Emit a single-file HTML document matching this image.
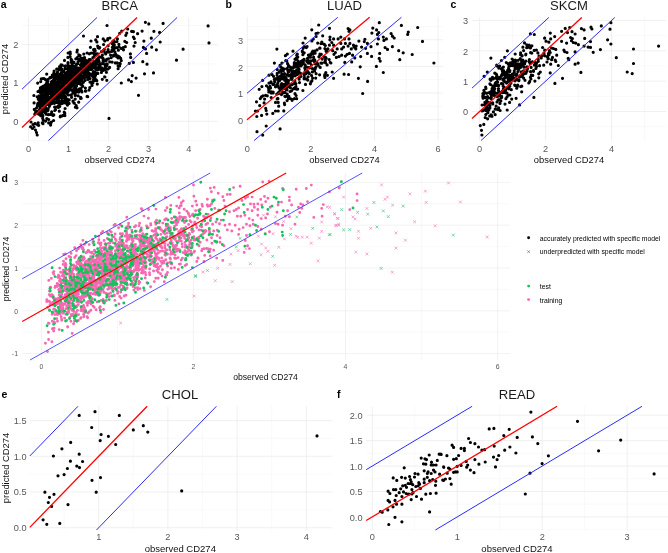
<!DOCTYPE html>
<html><head><meta charset="utf-8"><title>CD274 predictions</title>
<style>
html,body{margin:0;padding:0;background:#fff;}
body{width:668px;height:553px;overflow:hidden;font-family:"Liberation Sans",sans-serif;}
svg{display:block;font-family:"Liberation Sans",sans-serif;will-change:transform;opacity:0.999;}
</style></head><body>
<svg width="668" height="553" viewBox="0 0 668 553">
<rect width="668" height="553" fill="#fff"/>
<line x1="48.52" y1="17.5" x2="48.52" y2="140.5" stroke="#f1f1f1" stroke-width="0.45"/>
<line x1="88.57" y1="17.5" x2="88.57" y2="140.5" stroke="#f1f1f1" stroke-width="0.45"/>
<line x1="128.62" y1="17.5" x2="128.62" y2="140.5" stroke="#f1f1f1" stroke-width="0.45"/>
<line x1="168.67" y1="17.5" x2="168.67" y2="140.5" stroke="#f1f1f1" stroke-width="0.45"/>
<line x1="208.72" y1="17.5" x2="208.72" y2="140.5" stroke="#f1f1f1" stroke-width="0.45"/>
<line x1="22" y1="140.45" x2="218" y2="140.45" stroke="#f1f1f1" stroke-width="0.45"/>
<line x1="22" y1="102.15" x2="218" y2="102.15" stroke="#f1f1f1" stroke-width="0.45"/>
<line x1="22" y1="63.85" x2="218" y2="63.85" stroke="#f1f1f1" stroke-width="0.45"/>
<line x1="22" y1="25.55" x2="218" y2="25.55" stroke="#f1f1f1" stroke-width="0.45"/>
<line x1="28.50" y1="17.5" x2="28.50" y2="140.5" stroke="#e9e9e9" stroke-width="0.7"/>
<line x1="68.55" y1="17.5" x2="68.55" y2="140.5" stroke="#e9e9e9" stroke-width="0.7"/>
<line x1="108.60" y1="17.5" x2="108.60" y2="140.5" stroke="#e9e9e9" stroke-width="0.7"/>
<line x1="148.65" y1="17.5" x2="148.65" y2="140.5" stroke="#e9e9e9" stroke-width="0.7"/>
<line x1="188.70" y1="17.5" x2="188.70" y2="140.5" stroke="#e9e9e9" stroke-width="0.7"/>
<line x1="22" y1="121.30" x2="218" y2="121.30" stroke="#e9e9e9" stroke-width="0.7"/>
<line x1="22" y1="83.00" x2="218" y2="83.00" stroke="#e9e9e9" stroke-width="0.7"/>
<line x1="22" y1="44.70" x2="218" y2="44.70" stroke="#e9e9e9" stroke-width="0.7"/>
<path d="M66.9 93.3h0M99.7 47.6h0M60.1 93.8h0M79.9 76.1h0M84.8 66.6h0M112 50.1h0M82.9 61.4h0M58.6 102.3h0M87.1 66.8h0M63 76.2h0M50.6 77.7h0M75.3 79.1h0M39.2 98.8h0M57 97.9h0M43 95.1h0M89.3 63.4h0M52.5 99.1h0M84 75.5h0M79.2 70.3h0M61.9 116h0M95.6 54.4h0M53.8 95.2h0M40.7 81.6h0M78.8 59.5h0M105.3 65.2h0M81.5 79.1h0M91 41h0M81.1 66.5h0M40.4 92.6h0M61 64.9h0M57.5 95.3h0M74 69.5h0M80.7 97.4h0M77.8 83.6h0M95.2 50.8h0M100.9 69.5h0M42.2 89.8h0M77.1 77.4h0M48.7 122.9h0M45.5 103.3h0M102.4 55h0M60 104h0M71.7 85.2h0M55.2 95.6h0M52.5 93.3h0M65.8 76h0M52.6 87.6h0M73.2 66h0M61.6 97.3h0M56.7 73.6h0M62.2 69.4h0M103.5 70.3h0M57.1 95.3h0M103.2 58.5h0M51.3 91.6h0M80.6 98.5h0M60.6 77.3h0M70.4 82.8h0M66.6 93.3h0M57.9 79.2h0M37.6 124.8h0M86.2 64.3h0M80.2 68.1h0M103.1 61.6h0M93 53h0M53.2 83.9h0M56.7 94.9h0M55.7 107h0M71.8 84.9h0M39.1 95.9h0M71.2 82.1h0M80.1 55.6h0M52.8 99.8h0M85.1 68.3h0M75.1 86.1h0M79.6 75.2h0M70.7 86.8h0M42.9 106.3h0M96.8 80.7h0M68.9 86.4h0M81.2 77.4h0M73.2 79.6h0M68.2 91.6h0M62.7 82.4h0M75.2 95.4h0M80.2 72.6h0M89 73h0M52.6 76.9h0M55.4 97.3h0M55.2 94.4h0M51 96.2h0M67.1 100.3h0M66.3 77.4h0M120.7 58.3h0M77.5 83.5h0M43.4 106.1h0M92.3 75.8h0M72.1 78h0M67.9 78.9h0M73.9 103h0M81.6 58.3h0M86.1 73.6h0M47.6 88.9h0M116.9 41.6h0M56.2 93.9h0M57.3 100.6h0M68.1 75.8h0M70.4 79.9h0M53.2 83.4h0M42.7 118.3h0M87.1 96.4h0M65.6 96.6h0M60.8 92.3h0M69.5 70.7h0M57.7 82.7h0M80 79.4h0M43.2 120h0M61.8 100.8h0M92 85.4h0M57.9 87.8h0M90.6 63.6h0M93.9 67.6h0M84.6 57.6h0M86.5 68.2h0M38.1 103h0M80.9 75.3h0M74.7 68.3h0M111.1 57.7h0M78.1 61.6h0M46.3 94.6h0M74.2 81h0M80.8 75.5h0M39.3 96.4h0M72.1 83.1h0M69.8 77.4h0M77.3 50.1h0M98.1 47.7h0M72.9 66.7h0M48 110.3h0M110.6 55h0M60.4 79.8h0M56.8 94.2h0M53.7 83.5h0M42.1 96.5h0M56.2 83.9h0M61.5 86.9h0M69.5 77.7h0M75.4 71.4h0M45.3 112.7h0M59.9 96.8h0M40 111.9h0M77 58.5h0M70 76.6h0M52.2 91.1h0M65.4 88.9h0M87.7 96.7h0M52.3 84.1h0M34.3 109.4h0M50.5 77.8h0M62.5 83.6h0M90.3 82.2h0M70.3 82.5h0M74 89.2h0M79 74h0M101.5 51.6h0M64.5 60.4h0M55.4 102.4h0M79.8 71.1h0M93.9 57.1h0M74.8 86.4h0M61.4 90.2h0M113.6 56h0M106.8 80.3h0M37.2 96.8h0M66.7 83.1h0M63.5 98.1h0M42.9 86.3h0M57.4 86.6h0M77 52h0M73.4 69.8h0M85.2 68.2h0M55.7 95.6h0M118.9 44.3h0M92.2 68.6h0M55.4 92h0M68.8 90.4h0M81.1 81.1h0M54.9 86.2h0M113.3 43.9h0M76.5 86h0M76.3 82.9h0M74.6 74h0M74.3 103.2h0M74.8 67.5h0M79.2 74.5h0M51.5 90.5h0M61.5 74.4h0M65.2 87.9h0M101.3 63.8h0M60.5 91h0M68.6 78.1h0M65.3 68.7h0M69.8 87h0M45.5 103.6h0M64.5 87.4h0M84.9 67.1h0M53.4 88.1h0M62.4 91.3h0M102.3 79.3h0M52.4 99.1h0M42.7 115.4h0M90.4 59.7h0M57.6 88.6h0M93.9 73.8h0M57.2 96h0M76.8 91.8h0M59.9 85.3h0M116.7 56.7h0M62.2 74.5h0M39.4 90.9h0M48 104.4h0M84.1 70.9h0M62.1 96.2h0M83.8 63h0M52.7 83.9h0M84.1 71.3h0M90.4 47.3h0M71.3 80.1h0M86 75.6h0M45.7 109.2h0M57.9 78.8h0M63.9 81.5h0M73.5 76h0M94 56.5h0M74.4 69h0M59.7 106.5h0M71 67.6h0M45.6 103h0M84.4 68.6h0M71.6 86.2h0M48.6 103.8h0M74.3 103h0M52.5 92.3h0M85.9 72.1h0M93.6 66.9h0M63.8 83.5h0M65.4 83.3h0M45.6 121.1h0M51.9 101.4h0M41 102.6h0M80.7 75.3h0M94.7 49.4h0M42.3 108.8h0M57.1 69.1h0M96.3 61.1h0M65.6 77.9h0M49.5 99.6h0M50.5 99.6h0M74 62.4h0M94.9 65.2h0M55.4 90.9h0M44.5 85.8h0M92.9 57.6h0M94.9 78.2h0M61.8 87.3h0M58.7 87.6h0M103.2 38.9h0M54.6 107h0M80.7 71.3h0M69.6 76.1h0M41.9 90.5h0M69.8 68h0M44.6 100.6h0M49.9 84.8h0M48.5 101.6h0M101.4 72.4h0M47.2 102.4h0M49.1 86.1h0M46.8 118.6h0M80.1 84h0M85.9 68.9h0M51.8 88.7h0M40.1 109.1h0M41.4 88.9h0M75.4 67.8h0M54.9 91.8h0M68.6 65.8h0M81.1 68.8h0M45.8 98.3h0M74.1 79.3h0M113.8 40.5h0M49.5 91.6h0M67.4 105.1h0M109.6 67.4h0M73.6 71.8h0M101.9 57.4h0M44 78.6h0M96.5 61.4h0M69.4 80.4h0M62.3 89.2h0M114.4 42.1h0M63.6 85.6h0M99.1 66.6h0M65.4 65.9h0M78.8 54.9h0M57.1 92.6h0M58.7 97.3h0M64 71.7h0M65.6 90.6h0M73.2 78.2h0M38 91.6h0M46.4 108.7h0M99.2 48.2h0M114.3 44.9h0M36.5 108h0M70.3 53.8h0M96.2 53.8h0M96.7 59.7h0M52.2 97.5h0M87.7 69.7h0M88.2 66.3h0M86.6 75.5h0M57.7 87.1h0M71.5 86.2h0M60.5 116h0M82.9 71.8h0M47 89.2h0M115.7 54.4h0M50.3 85.5h0M53.3 100.9h0M111.7 51.4h0M69.4 72.2h0M88.7 69.2h0M68.4 94.9h0M76 88.4h0M47.5 100.6h0M50.2 84.9h0M73.6 76.9h0M52.2 103.3h0M54.9 78.1h0M52.9 93h0M109.1 52.1h0M63 93.6h0M76.8 70.2h0M91.4 65h0M99.1 61.5h0M48.1 87.4h0M70 88.3h0M59.7 76h0M91.9 84.6h0M68 63.8h0M62.5 82.2h0M43.4 100.2h0M49.6 100.6h0M54.7 83.9h0M84.7 70.5h0M53.6 92.1h0M57 77.3h0M68.9 84.1h0M59.6 88.5h0M71 73.8h0M55.3 90.6h0M71.1 76.5h0M55.1 93.2h0M70.3 71.1h0M50.2 104.6h0M47.2 104.4h0M78.2 74.7h0M83.2 70.4h0M48.4 85.4h0M46.2 80.1h0M43.7 97.5h0M53.8 73.2h0M45.6 79.7h0M97.8 69.8h0M43.2 102.3h0M96.6 61h0M51.5 89.4h0M99.1 64.7h0M58.5 68.8h0M90.9 66.8h0M82.3 59.3h0M72.4 69.3h0M44.8 96.7h0M59.1 82.6h0M83.5 61.3h0M49.6 93.3h0M63.6 76.7h0M49.9 102.4h0M78.1 95.8h0M62.1 93.6h0M78.1 90.1h0M56.2 75.7h0M70.6 83.3h0M47.3 91.8h0M91.4 74h0M77.9 75.7h0M93.7 71.8h0M67.3 72.1h0M93.8 80.1h0M73.3 70.4h0M68.1 53h0M96.2 69.9h0M40.8 99.3h0M40.8 115.7h0M66.6 81.8h0M94.8 80.4h0M72.3 71.3h0M108.3 58.8h0M71.6 97.3h0M65.1 96.1h0M93.6 79.8h0M78.8 76.3h0M71.8 69.4h0M72.1 90.2h0M81.2 80.5h0M76.4 74h0M43 123.7h0M46 90.4h0M46.6 91.9h0M65.1 108.5h0M80.4 60.4h0M106.4 72.3h0M38 104.6h0M60.8 74.1h0M87.9 79.4h0M57.2 90.3h0M44.5 103.3h0M64.1 89.2h0M74.8 81.7h0M103.4 59.5h0M89.4 75.8h0M75.1 73.2h0M67.4 81.9h0M37.4 105.7h0M68 62.6h0M43.4 111.9h0M50.8 85.8h0M54.5 98.5h0M88.3 63.9h0M85.1 64.3h0M68.1 90.6h0M68.4 89.8h0M107 25.5h0M88.5 63.2h0M84.4 78.5h0M58.7 101.8h0M75.8 58.8h0M102.8 58h0M62.6 92.8h0M79.2 59.9h0M104.8 40.9h0M52.5 96.3h0M61.2 86.2h0M42.8 116.1h0M49.7 93.6h0M39.3 114h0M63.2 76.5h0M96.2 79.9h0M78.7 102.2h0M70.8 66.3h0M78.3 71.5h0M44.2 95.3h0M48.7 119.5h0M76.3 64.7h0M54.5 82h0M54.8 110.5h0M62.7 82.2h0M50.6 125.1h0M67.8 102.5h0M68.9 69.7h0M59 92.1h0M79.9 73.7h0M75.4 75.1h0M39.5 90.7h0M64.9 115.6h0M45.4 103.5h0M88.4 65.8h0M85 66.8h0M44.4 89.8h0M106.9 65.6h0M94 64.3h0M46.4 93h0M112.1 62.1h0M57.6 75.6h0M46.6 99.4h0M80.2 83.2h0M43.6 97.8h0M66.5 92.5h0M65.6 76.3h0M80.5 71.9h0M71.2 68.3h0M75.4 87.1h0M37.7 103.9h0M60.8 67h0M62.8 87h0M70.9 66h0M57.4 98h0M59.3 74.6h0M75 68.5h0M85.5 60.1h0M72.9 92.2h0M48.6 89.8h0M59 94.8h0M72.7 71.5h0M53 115.4h0M84.2 64.9h0M71.3 60.9h0M71 84.5h0M44.3 92h0M62.5 81.6h0M57.7 87.1h0M83.4 82.2h0M54.7 89.7h0M60.4 103.4h0M59.2 92.8h0M91.2 53h0M49 104.9h0M53.9 101.9h0M46.7 74.1h0M83.3 58.2h0M50 77.5h0M68.9 80.6h0M87.4 65.1h0M44.9 89.4h0M72.9 71.9h0M73.1 78.5h0M59.7 102h0M93.4 71.5h0M74.3 92.5h0M83.8 54.1h0M106.7 59.4h0M90.6 67.7h0M87.7 67.7h0M56 89.4h0M75.9 79.1h0M63.6 90.8h0M71.3 94.8h0M79.2 55.5h0M60.4 93.9h0M56.8 94.1h0M52.8 100.2h0M66.6 88h0M67.6 81.4h0M47.4 88h0M42.8 110h0M69.8 77.2h0M70.7 86.5h0M46.3 84.2h0M58.7 100.6h0M62.3 89.1h0M103.7 50.1h0M117.1 62.8h0M54.5 89.8h0M76.8 73.9h0M89.4 53.8h0M118.4 50.2h0M45.7 87h0M58.5 85.6h0M74.9 81.1h0M59.1 89.8h0M60.4 82.2h0M40.4 87.9h0M43.3 90.7h0M54.2 83.7h0M48.2 79.4h0M61.4 102.1h0M53.8 114.9h0M60.8 82.1h0M42.8 122.8h0M46 109.7h0M74.3 69.6h0M76.2 90.4h0M88.5 74.5h0M74 80.3h0M59.9 79.9h0M80.9 88.5h0M50.2 90.9h0M87.4 61.4h0M36.8 111.4h0M55.2 102h0M78 72.6h0M66.7 82.9h0M84.8 73.8h0M44.6 91.5h0M72 82h0M78.4 68h0M78.9 73.3h0M44.4 86.8h0M105.5 64.7h0M65.2 89.7h0M107.1 52h0M73.7 73.7h0M52 81.4h0M51.1 89.6h0M63.3 115.4h0M37.7 83.1h0M73.5 85.1h0M58.1 99.5h0M82.8 86.3h0M51.3 86.6h0M59.2 105.4h0M42.8 96.5h0M63.7 71.4h0M58 76.5h0M49.4 106.3h0M51.9 90.3h0M65 97.2h0M43.6 104.5h0M113.2 45h0M62.1 87.3h0M34.9 123.7h0M97.5 36.7h0M67.5 68.7h0M89.1 59.5h0M75 80.1h0M95.5 75.3h0M94.6 51.1h0M60 90.4h0M50.3 93.7h0M63 89.1h0M47.5 95.2h0M67.9 57.4h0M51.8 96.3h0M85.2 73h0M63.5 82.9h0M60.2 116.8h0M56 102.4h0M85.4 88h0M59.2 93.9h0M71.7 81.5h0M98.6 69.3h0M85 80.5h0M51.5 103h0M73.5 82.2h0M97.3 84.1h0M64 101.3h0M40 107.3h0M54.1 71.1h0M53.9 93.2h0M66.3 103.3h0M81.2 98.3h0M55.9 82.7h0M93.7 80.3h0M45.9 103.6h0M58.4 93.5h0M79.5 72.2h0M60.3 80.5h0M115.3 62.9h0M107.2 64h0M41.8 101.7h0M73.7 70.9h0M47.7 101.9h0M47.4 110.9h0M46.6 104.2h0M54.5 87.7h0M60.2 75.9h0M103.2 63.7h0M73.7 80.1h0M70 82.2h0M57 94.4h0M89.6 65.5h0M81.5 72h0M77 107.8h0M43.2 109.8h0M76.8 81.8h0M39.4 109.6h0M46.5 86.7h0M81.3 58.5h0M59 85.1h0M97.7 46.1h0M41.3 104h0M81 76.3h0M107 69.2h0M116.8 47.5h0M70.6 85.1h0M119 56.6h0M50.2 89.8h0M57 92.3h0M82 84h0M75.7 77.7h0M84.1 71h0M75 76.1h0M50.3 97.3h0M71.4 62.4h0M104.6 76.8h0M47.9 97.1h0M87.7 78.2h0M74.3 82.3h0M98.3 57.9h0M80.5 65.1h0M85.9 91.1h0M95.7 39.9h0M98.5 59.9h0M49.8 98.3h0M82.9 65.8h0M70.1 84.4h0M80.6 58.2h0M117.4 38.9h0M71.1 78.6h0M45 85.2h0M46.6 102h0M94.1 61.6h0M56.9 78.1h0M69.2 99.9h0M76.3 89.4h0M74.2 70.1h0M66.9 81.6h0M119.6 66h0M57.2 99.9h0M51.3 98.3h0M54.7 75.5h0M99.5 66.3h0M96.9 41.9h0M88.1 70.6h0M69.4 88.2h0M87.1 53h0M71.3 69.9h0M46.7 82.8h0M58 78h0M58.8 97.7h0M46.1 114.2h0M64.2 92.5h0M49 90.5h0M47.9 93.5h0M57.2 81.9h0M48.4 100h0M77.9 63.6h0M56.7 69.1h0M69.8 74.4h0M112.1 43.6h0M75.3 71.4h0M60.8 77.1h0M82.4 69.4h0M66.5 87.5h0M65.9 80.9h0M71.9 77.6h0M64.8 98.9h0M58.3 85.7h0M60 86.6h0M77.2 73h0M57.2 94.3h0M108.1 49.7h0M76.2 69.5h0M79.8 80.4h0M76.1 72.6h0M97.7 53.9h0M39.8 110.4h0M105.3 66.7h0M40.8 100.3h0M45.8 107.5h0M67.7 89.9h0M58.3 107.4h0M81.5 65.9h0M106 60.9h0M59.3 111.2h0M115 51.9h0M71.1 89.5h0M79.6 79.2h0M91.6 82.1h0M79.8 82.9h0M64.2 86.3h0M38.2 122.8h0M105.1 68.3h0M53 94h0M93.1 73.7h0M83.6 70.2h0M62.5 78.8h0M93.9 77.2h0M57.7 83h0M45.3 105.2h0M78.2 71.5h0M61.8 95.8h0M48.3 93.1h0M48.2 97.4h0M43.1 99.3h0M108.1 45.8h0M78.9 70.6h0M119.1 46.8h0M57.6 102.3h0M67.8 83.3h0M67.7 104.6h0M42.3 122.9h0M62 89.7h0M56 93h0M44.6 104.7h0M50.9 87.7h0M42.6 89.1h0M57.6 92.8h0M63.2 76.3h0M54.1 80.4h0M71.9 74.4h0M68.2 66h0M91.1 69.6h0M41.1 110.1h0M79.4 88.8h0M99.7 56.8h0M42.1 115.4h0M117.6 55.9h0M44.2 105.7h0M100.1 66.3h0M58.2 78.5h0M71.9 60.4h0M99.8 67.6h0M78.5 89.9h0M51.1 101.2h0M49.2 90.7h0M54.4 103.3h0M62.9 74.8h0M67.4 99.2h0M71.3 84.2h0M49 97.7h0M49.5 98.6h0M97.8 73.4h0M70.1 56.6h0M48.4 99.7h0M72.5 75.1h0M96.9 62.2h0M79.9 90h0M47.1 102.1h0M57.9 87h0M42.2 90.7h0M56 93.8h0M46.4 93.5h0M39.9 105.2h0M61.8 80.4h0M52 97.1h0M41.7 94.4h0M69.1 103.4h0M86.9 75h0M51.3 122.2h0M95.4 74.2h0M48.2 89.7h0M89.1 90.1h0M35.6 111.9h0M79.5 80.8h0M73.4 80h0M81.6 79.9h0M73.6 90.4h0M78.4 76.6h0M57.8 92.9h0M42.8 106.1h0M92.9 82.7h0M52.3 75.2h0M49.5 88.1h0M67.2 88.2h0M48.3 86.2h0M78 81.4h0M41.3 78.9h0M64.2 81.7h0M57.2 91.8h0M67.3 86.9h0M33.9 95.5h0M42.2 95.9h0M71.8 81.1h0M64.2 112.1h0M59.3 69.7h0M43.7 86.6h0M73 101.2h0M93.4 62.7h0M98.5 68.6h0M35.1 123.6h0M63.7 102.9h0M61.8 92.3h0M80.8 74.6h0M38.8 114.2h0M104.3 49.4h0M51.4 88.2h0M44.1 87.5h0M66.2 100.9h0M71.6 81.6h0M44.8 98.4h0M93.4 77.4h0M75.2 99.1h0M60.4 67.7h0M74 88.4h0M77.5 79.2h0M85.3 71.7h0M76 65.1h0M70.5 75.6h0M101.2 57.2h0M81.5 64.7h0M93.6 49.7h0M55.1 90.1h0M64 86.9h0M76.5 70.1h0M53.6 120.5h0M77 74.8h0M64.2 84.7h0M103.1 60.1h0M40.5 97.8h0M67 81.5h0M39.8 101h0M62.8 86.8h0M60.2 82.6h0M96.7 67.6h0M94.3 54.1h0M58.2 105.8h0M56.5 87.7h0M104.8 52.5h0M41.5 113.4h0M103.6 44.5h0M53 89.4h0M34.8 114.2h0M81.4 90.5h0M38.3 99.3h0M71.6 78.3h0M43 78.5h0M70.2 52.1h0M42.1 90.4h0M58.1 95.7h0M63.3 79.6h0M95.8 64.8h0M86.5 61.6h0M49.3 89.3h0M79.9 81.5h0M71.3 84.4h0M61.2 72.6h0M55.5 91.9h0M77.2 67.9h0M107.8 38.7h0M56.2 83.4h0M41.8 97.7h0M80.8 69.5h0M90.4 66.8h0M85.7 71.8h0M59.9 83h0M67.4 75.2h0M68.2 84.9h0M87.3 73.2h0M34.1 102.9h0M74.7 67.1h0M54.3 101.4h0M78.7 71.1h0M63.5 94.9h0M50.6 124.1h0M51.7 111.8h0M61.9 71.5h0M82.3 72.7h0M112.5 50.7h0M59.6 91.1h0M44.8 94.1h0M81.9 91.9h0M48.4 114.7h0M120.2 63.8h0M42.6 99h0M68.8 74.2h0M68.4 76.8h0M73.7 79.3h0M95 76.6h0M75.3 94.9h0M55.7 92.5h0M52.7 114.6h0M53.1 84.1h0M57.5 94h0M69.7 88.1h0M118.1 65.8h0M48.2 108.8h0M67.3 79.8h0M83.5 73.1h0M51.4 83.2h0M74.3 71.7h0M57.3 90h0M71.7 77.7h0M51.9 101.3h0M49.2 103.3h0M73.9 93h0M68.3 70.9h0M67.6 84.3h0M41.7 93.1h0M85 75.4h0M52.7 96h0M104.9 77h0M43.8 97.5h0M50.1 92.7h0M89.2 60.2h0M57.5 72.1h0M62.2 65.2h0M49.7 104.1h0M47.7 83.3h0M119.7 33.3h0M90.1 78.5h0M65.7 74.7h0M43.8 96h0M52.9 83.5h0M42.8 111.7h0M85.3 91.1h0M50.1 104.3h0M99.8 63.8h0M72.3 64.5h0M47.3 97.7h0M38.7 125.3h0M64.4 98.5h0M73.9 89.4h0M67.4 72h0M76.9 82.9h0M71.2 95.4h0M88.2 60.6h0M105.7 54h0M56.2 86.6h0M78.7 92.1h0M97.3 69.9h0M71.2 80.9h0M59 96.5h0M89.8 87.7h0M59.3 96.4h0M56.5 91.5h0M37.4 113.1h0M60.4 94.5h0M75.4 82.9h0M71.3 78.7h0M83.3 76.8h0M60.6 86.6h0M105.5 69.4h0M51.9 87.6h0M75.5 66.9h0M65.6 73.4h0M61 89.7h0M72.9 75.6h0M63.7 92.3h0M78.6 82.7h0M90 82.1h0M82.1 70h0M63.5 87.8h0M39.7 104.3h0M113.8 47.1h0M77.1 82h0M112.4 47.4h0M46 94.2h0M86 76.5h0M67.7 79.1h0M77.2 57.7h0M70.1 79.3h0M71.1 59.2h0M55.5 89.3h0M56.8 76.1h0M66.6 88.2h0M48 83.9h0M55.8 102.4h0M63.7 82.3h0M77.4 78.8h0M50.4 114.4h0M108.2 68.8h0M51.5 81.9h0M46.5 91.9h0M41.6 87.2h0M83.3 69.5h0M76.2 105.7h0M83.9 68.5h0M53.8 85.8h0M59.5 92.8h0M75.6 81.2h0M109.7 61.8h0M64.8 66.3h0M78 62.4h0M67.5 77.7h0M73.6 84.7h0M61.1 98h0M54.8 81.2h0M68.8 77.5h0M81.6 70.6h0M53.7 96.3h0M44.8 109.7h0M75.4 107.2h0M64.8 113.2h0M54.9 94.4h0M95.6 73h0M59.9 75.6h0M59.6 66.5h0M58.6 82.5h0M81.6 63.2h0M81.7 85.2h0M64.9 82.3h0M48.9 93h0M106.3 60.3h0M96 64.3h0M70.3 89.9h0M44.5 99.1h0M99.8 64.9h0M47.9 81.3h0M64.3 77.7h0M59.7 85.9h0M57.3 94.4h0M102.2 68.2h0M55.5 109.7h0M53.7 79.8h0M44.8 93.1h0M83.9 64.6h0M45.2 97.5h0M77.1 73.4h0M40.1 110.1h0M62 103.3h0M44.5 110.8h0M56.7 88.9h0M104 60.8h0M75.1 93.1h0M95.8 69.2h0M96.5 64.3h0M41.7 94.7h0M70.7 67.1h0M77.3 68.2h0M43.7 99.6h0M46.9 92.7h0M61.8 103.6h0M104 61.3h0M55.3 79.1h0M89.3 62.9h0M36.2 113.1h0M69.6 72.3h0M72.6 71.5h0M208.1 25.9h0M209 42.9h0M183.1 49.2h0M176.5 60.2h0M163.1 23.4h0M145.4 22.3h0M148.8 23.9h0M142.1 31.1h0M137.6 33.7h0M133.4 31.7h0M131.6 31.3h0M127.7 29h0M121.7 31.1h0M126.7 33.1h0M125.8 35.3h0M153.9 31.3h0M159.6 32.4h0M151.3 38.2h0M160.2 42h0M143.9 41.1h0M133.4 37.1h0M134.3 38.6h0M135.2 42.5h0M134 46.1h0M143.4 47.4h0M145.5 48.9h0M151.7 47.2h0M156.4 49.8h0M146.6 53.4h0M130.4 53.9h0M130.7 57.4h0M129.3 63.3h0M133.4 62.4h0M142.8 61.7h0M147 64.2h0M153.5 72.9h0M144.5 73.8h0M132.2 75.6h0M136.1 78.1h0M128.6 79.9h0M131.4 81.6h0M121.3 83h0M138.5 95.3h0M124.8 41.3h0M126.7 42.5h0M125.3 46.7h0M123.1 47.6h0M121.3 48.5h0M123.5 49.8h0M118.1 68.7h0M119.9 63.3h0M121.3 60.6h0M118.1 57.9h0M119.5 57h0M113.6 55.2h0M109.9 38h0M107.6 39.8h0M112.7 41.6h0M115.4 48h0M113.6 49.8h0M109 118.4h0M30.6 126.8h0M32.5 128.5h0M34 127h0M35.5 130h0M36.5 132.5h0M37.2 135h0M33 124.5h0M31 122h0M83.5 36h0" stroke="#000" stroke-width="3.20" stroke-linecap="round" fill="none"/>
<line x1="22.00" y1="89.22" x2="96.99" y2="17.50" stroke="#2a2aff" stroke-width="1.0"/>
<line x1="48.47" y1="140.50" x2="177.09" y2="17.50" stroke="#2a2aff" stroke-width="1.0"/>
<line x1="22.00" y1="127.52" x2="137.04" y2="17.50" stroke="#ff0000" stroke-width="1.3"/>
<text x="28.50" y="151.7" font-size="9.2" fill="#585858" text-anchor="middle">0</text>
<text x="68.55" y="151.7" font-size="9.2" fill="#585858" text-anchor="middle">1</text>
<text x="108.60" y="151.7" font-size="9.2" fill="#585858" text-anchor="middle">2</text>
<text x="148.65" y="151.7" font-size="9.2" fill="#585858" text-anchor="middle">3</text>
<text x="188.70" y="151.7" font-size="9.2" fill="#585858" text-anchor="middle">4</text>
<text x="18.4" y="124.61" font-size="9.2" fill="#585858" text-anchor="end">0</text>
<text x="18.4" y="86.31" font-size="9.2" fill="#585858" text-anchor="end">1</text>
<text x="18.4" y="48.01" font-size="9.2" fill="#585858" text-anchor="end">2</text>
<text x="119.8" y="10.2" font-size="13.1" fill="#1a1a1a" text-anchor="middle">BRCA</text>
<text x="0.8" y="8.3" font-size="10.5" font-weight="bold" fill="#000">a</text>
<text x="119.7" y="163" font-size="9.4" fill="#111" text-anchor="middle">observed CD274</text>
<text transform="translate(8.4,79) rotate(-90)" font-size="9.4" fill="#111" text-anchor="middle">predicted CD274</text>
<line x1="279.10" y1="17.3" x2="279.10" y2="140.5" stroke="#f1f1f1" stroke-width="0.45"/>
<line x1="342.70" y1="17.3" x2="342.70" y2="140.5" stroke="#f1f1f1" stroke-width="0.45"/>
<line x1="406.30" y1="17.3" x2="406.30" y2="140.5" stroke="#f1f1f1" stroke-width="0.45"/>
<line x1="247" y1="132.90" x2="443" y2="132.90" stroke="#f1f1f1" stroke-width="0.45"/>
<line x1="247" y1="106.30" x2="443" y2="106.30" stroke="#f1f1f1" stroke-width="0.45"/>
<line x1="247" y1="79.70" x2="443" y2="79.70" stroke="#f1f1f1" stroke-width="0.45"/>
<line x1="247" y1="53.10" x2="443" y2="53.10" stroke="#f1f1f1" stroke-width="0.45"/>
<line x1="247" y1="26.50" x2="443" y2="26.50" stroke="#f1f1f1" stroke-width="0.45"/>
<line x1="247.30" y1="17.3" x2="247.30" y2="140.5" stroke="#e9e9e9" stroke-width="0.7"/>
<line x1="310.90" y1="17.3" x2="310.90" y2="140.5" stroke="#e9e9e9" stroke-width="0.7"/>
<line x1="374.50" y1="17.3" x2="374.50" y2="140.5" stroke="#e9e9e9" stroke-width="0.7"/>
<line x1="438.10" y1="17.3" x2="438.10" y2="140.5" stroke="#e9e9e9" stroke-width="0.7"/>
<line x1="247" y1="119.60" x2="443" y2="119.60" stroke="#e9e9e9" stroke-width="0.7"/>
<line x1="247" y1="93.00" x2="443" y2="93.00" stroke="#e9e9e9" stroke-width="0.7"/>
<line x1="247" y1="66.40" x2="443" y2="66.40" stroke="#e9e9e9" stroke-width="0.7"/>
<line x1="247" y1="39.80" x2="443" y2="39.80" stroke="#e9e9e9" stroke-width="0.7"/>
<path d="M302.3 60.5h0M311.6 75.5h0M312.6 78.1h0M293 67.8h0M325.4 60.2h0M315.7 78.1h0M262.7 80.3h0M322.4 43.5h0M315.1 69h0M301 64.6h0M297.8 57h0M280.7 75.9h0M288.1 82.8h0M284.3 87.8h0M281.9 74h0M291 78.2h0M271.3 93.1h0M298.7 65.9h0M286.2 89.7h0M304 59.3h0M316.7 62h0M293 51.2h0M312.4 71.9h0M287.3 54.1h0M318.7 25h0M316.1 36.4h0M303.2 53.9h0M325.5 62.7h0M324.4 44.4h0M306.9 61.4h0M273.5 76.3h0M299.3 64.3h0M281.9 63.1h0M326.2 58.3h0M314.2 61.4h0M278.6 93.6h0M277.7 86h0M309.1 67.6h0M324.3 56.8h0M271.2 93h0M292.9 72.1h0M298 61h0M287.2 94.1h0M285.7 77.6h0M302.9 90.5h0M303 43h0M288.4 66.4h0M294.3 63.5h0M304.2 52.8h0M329.2 59.5h0M294.3 73.7h0M290.5 67h0M304.8 68h0M321.8 42h0M307.3 58.5h0M309.2 67.9h0M315.8 67.3h0M285.2 84.5h0M277.5 93.5h0M305.9 70.3h0M310.7 54.9h0M318.1 65.2h0M298.2 61.3h0M325.7 58.4h0M291.5 77.9h0M283.2 78.2h0M289.8 84.4h0M281.9 78.9h0M321 43.6h0M301.9 64.6h0M281.9 89.5h0M304.1 78.8h0M286.8 61h0M287.3 74.7h0M325.3 45.5h0M295.2 75.8h0M286.2 79.1h0M278.3 79.4h0M296.1 95.5h0M304.9 67.6h0M281.3 90.5h0M285 76.5h0M307.8 80.1h0M291.1 78.2h0M315.5 63.9h0M294.9 81.1h0M304.3 46.6h0M276 78.5h0M269 75.2h0M277.2 73.3h0M268.6 89.8h0M270.5 87.9h0M288.5 75.8h0M275.5 86.8h0M275.8 78.9h0M298 73h0M299.1 79.2h0M324.8 62.2h0M278.8 92.4h0M316 33.5h0M288.8 75.5h0M293 75.9h0M325.8 72.6h0M296.7 55.3h0M272.1 74.6h0M316.1 73.7h0M320.9 63.1h0M324.9 77.5h0M302.4 51.7h0M317 49.9h0M269 83.1h0M296.6 63.5h0M314.6 68.5h0M284.7 80.3h0M289.4 69.9h0M280 65.3h0M279.2 72.2h0M303.1 48.3h0M319.9 67h0M281.7 83.7h0M285.8 60.6h0M287.8 70.6h0M295 59.2h0M277.3 69.6h0M296.9 59.1h0M319.9 54.2h0M274.3 79.4h0M294.3 88.2h0M284.7 80h0M284.6 104.6h0M286.2 78.4h0M279.4 80.8h0M273.1 92.9h0M296.2 58.4h0M271.7 91.9h0M289.3 75.2h0M274.4 63.1h0M300.7 64.5h0M271.3 82.8h0M301.2 61.4h0M277.6 86.2h0M329.4 45.2h0M321.9 63.2h0M291.4 79.2h0M294.3 65.1h0M315.2 68.1h0M289.9 87.4h0M309.1 57.2h0M286.2 82.5h0M311.9 80.8h0M296.6 98.7h0M285.4 96.6h0M279.1 88h0M297.3 57.4h0M277.1 75.3h0M291.9 79.3h0M278.4 92.5h0M298.8 71.5h0M319.6 74.8h0M310.8 60.9h0M327.4 75.3h0M309.3 73.6h0M310.9 53.9h0M285.9 78.9h0M289.2 84.4h0M292.3 77.8h0M292.1 71.8h0M304.3 77h0M302.9 54.7h0M312.9 51.2h0M326.1 51.1h0M296.6 89.2h0M288.3 97.8h0M282.5 85.2h0M308.9 72.8h0M294.2 83.5h0M327.1 64.9h0M314.6 59.8h0M284.9 96.3h0M295.8 63.4h0M290.1 91.5h0M311.6 65h0M288.9 96.4h0M278.4 80.5h0M290.2 98.5h0M330.2 62.3h0M284.5 73.7h0M320 48.2h0M282.2 68h0M304.2 74.7h0M270 86.3h0M325.5 57.3h0M314.9 51h0M285.7 86h0M295 88.4h0M287.1 100.6h0M304.2 72.9h0M280.8 86h0M311.9 40.9h0M290.8 68.7h0M308.2 63.1h0M306.5 67.1h0M312.3 51.9h0M315.1 53.2h0M305.8 71.3h0M279.4 77.4h0M306.3 73.3h0M277.1 85.2h0M296.9 66.1h0M311 81.9h0M295.9 86.3h0M293.4 71.2h0M324.9 48.6h0M324.8 74.5h0M281.9 94h0M278 80.4h0M291.7 99.3h0M288.6 65.6h0M300.9 76.5h0M293 73.6h0M319.3 56.3h0M305.2 38.1h0M284.1 69h0M273.2 84.6h0M289.3 75.2h0M279.5 79h0M290.9 69.6h0M294.4 67.1h0M288 85.3h0M281.1 88.6h0M268.8 92h0M280.8 70.2h0M297.3 54.2h0M283.5 92.6h0M284.4 103.1h0M277.7 98.3h0M308.3 60.6h0M290.4 87.7h0M276.8 94.1h0M303 63.5h0M320.2 67.4h0M307.9 71.5h0M317.5 63.6h0M277.9 98.7h0M285.4 85h0M277.7 83.4h0M300.4 73h0M283.3 68.5h0M299.1 69.4h0M327.3 49.6h0M287.7 83.6h0M285.8 86.9h0M307.1 46.5h0M310.4 83.8h0M287.8 64.1h0M281.9 90.8h0M304.1 60.1h0M291.5 90.8h0M288.2 71.9h0M301 66h0M294.4 98.6h0M266.5 85.8h0M274.1 84h0M282 93.6h0M291.1 75.8h0M280.5 76.1h0M316.8 62.4h0M327.9 48.9h0M287 89.9h0M295.7 71.2h0M303.3 62.4h0M289 71.6h0M286.4 88.2h0M296.5 70.4h0M313.3 60.3h0M268.5 87.7h0M299.1 63.3h0M297.4 74.5h0M313.3 39h0M295.3 59.5h0M299.1 78.2h0M324.6 75.9h0M283.5 88.5h0M308.7 67.7h0M271.2 97.5h0M288.1 86.5h0M295.9 83.6h0M284.3 92.4h0M304.6 74.3h0M274.6 81.7h0M291.6 73.9h0M314.8 51.1h0M280.2 89.7h0M283.8 110.9h0M305.1 64.8h0M293.7 66.7h0M283.3 70.7h0M298.5 73h0M293.3 88.9h0M281.4 71.3h0M282.9 87.2h0M305.3 70.2h0M299.5 82.6h0M298.2 66.9h0M305.5 84.4h0M313.6 57.2h0M273.2 92.2h0M317.9 33h0M287.6 63.7h0M297.7 63.7h0M310.5 57.2h0M287.4 80.4h0M285.4 55.7h0M281.1 84.7h0M305 74.2h0M271 81.9h0M297 72.6h0M329.9 39.8h0M285.9 86.5h0M292.1 84.7h0M294.4 62.5h0M318.9 56.8h0M310.2 63.2h0M297.5 67.4h0M308.1 76.8h0M277.9 78.4h0M313.3 59.8h0M269.1 90.6h0M312.2 68.5h0M319.7 48.2h0M279.5 78.9h0M314.6 70.9h0M296.1 67h0M282.5 85.1h0M282.6 76.4h0M306.7 71.7h0M326.7 51.9h0M285 92.6h0M268.7 89.7h0M287.2 84.2h0M305.8 73.8h0M281.5 94.6h0M312.8 54h0M281.9 87.4h0M284 84.3h0M280 90.5h0M300.9 74h0M292.1 100.3h0M322.2 59.1h0M322.7 35.8h0M285.8 77.8h0M308.4 55.1h0M302.3 51.1h0M329.5 28.3h0M321.3 54.3h0M288.6 80.6h0M306.3 47.6h0M277.2 99h0M280.7 66.9h0M285.7 88.1h0M284.5 76.1h0M317.7 43.1h0M306.3 79.1h0M284.3 78.5h0M286.9 68.5h0M379.3 22.7h0M401.4 25.4h0M417.7 27.5h0M372.8 28.1h0M376.6 29.9h0M371.9 33.1h0M378.8 32.6h0M377.4 34.4h0M408.3 32h0M407.7 34.4h0M391.1 33.5h0M392.4 36.2h0M394.2 38h0M422.5 41.4h0M383.3 37.1h0M386.4 38.9h0M383.9 40.4h0M378.4 38.9h0M377.4 44h0M392.4 46.7h0M385.1 47.6h0M387.5 49.4h0M398.7 50.7h0M403.2 52.8h0M412.2 54.5h0M379.7 53.4h0M379.2 58.4h0M380.2 61.1h0M399.8 59.7h0M433.9 63h0M376.4 66.4h0M383.3 72.5h0M367.6 81.4h0M362.7 93.5h0M358.4 78.3h0M348.6 74.5h0M344.1 74.2h0M333.6 78.3h0M332.2 72h0M330.9 63h0M344.8 62.4h0M351.7 61.9h0M360.2 66.8h0M360.7 56.6h0M367.4 53.4h0M371.6 56.4h0M371 46.7h0M367.4 43.4h0M364.9 39.3h0M364.3 41.6h0M365.6 48.3h0M361.6 47.1h0M358.9 41.1h0M356.2 46.1h0M355.8 48.9h0M353.5 45.2h0M354.8 57.9h0M352.6 55.2h0M349.5 53.4h0M347.2 54.3h0M345.4 56.1h0M341.7 55.2h0M339 56.6h0M336.3 57.4h0M334 54.3h0M335.4 52.5h0M332.7 50.7h0M337.2 48.9h0M341.7 48.9h0M343.6 47.1h0M348.1 46.1h0M349.9 43.4h0M345.4 43.4h0M340.8 43.4h0M338.1 38.9h0M340.8 37.1h0M344.5 38.9h0M349 38.9h0M333.6 38.9h0M331.8 42.5h0M333.6 45.2h0M330 37.1h0M348.1 28.6h0M349.9 29.9h0M349 31.3h0M354 47.1h0M351.3 48.9h0M256.5 101.8h0M260.3 98.6h0M259.7 105.6h0M255.4 111h0M257.6 111h0M256.8 116.5h0M261.6 115.4h0M266.8 114.1h0M265.7 108.3h0M266.2 110.5h0M272.8 113.4h0M275.5 111h0M278.2 111h0M278.7 106.2h0M275.5 102.4h0M278.2 102.4h0M265.7 95.3h0M267.3 95.8h0M263 95.8h0M261.4 96.9h0M264.6 99.1h0M264.1 102.9h0M259.2 89.3h0M261.9 86.6h0M287.9 95.8h0M288.5 98.6h0M295 93.7h0M297.7 89.1h0M257 131.7h0M262.7 135.1h0M266.2 126h0M280.1 128.9h0M276.9 49.1h0M311.8 29.8h0" stroke="#000" stroke-width="3.20" stroke-linecap="round" fill="none"/>
<line x1="247.00" y1="93.25" x2="337.80" y2="17.30" stroke="#2a2aff" stroke-width="1.0"/>
<line x1="254.11" y1="140.50" x2="401.40" y2="17.30" stroke="#2a2aff" stroke-width="1.0"/>
<line x1="247.00" y1="119.85" x2="369.60" y2="17.30" stroke="#ff0000" stroke-width="1.3"/>
<text x="247.30" y="151.7" font-size="9.2" fill="#585858" text-anchor="middle">0</text>
<text x="310.90" y="151.7" font-size="9.2" fill="#585858" text-anchor="middle">2</text>
<text x="374.50" y="151.7" font-size="9.2" fill="#585858" text-anchor="middle">4</text>
<text x="438.10" y="151.7" font-size="9.2" fill="#585858" text-anchor="middle">6</text>
<text x="243" y="123.91" font-size="9.2" fill="#585858" text-anchor="end">0</text>
<text x="243" y="97.31" font-size="9.2" fill="#585858" text-anchor="end">1</text>
<text x="243" y="70.71" font-size="9.2" fill="#585858" text-anchor="end">2</text>
<text x="243" y="44.11" font-size="9.2" fill="#585858" text-anchor="end">3</text>
<text x="344.5" y="10.2" font-size="13.1" fill="#1a1a1a" text-anchor="middle">LUAD</text>
<text x="225.5" y="8.2" font-size="10.5" font-weight="bold" fill="#000">b</text>
<text x="344.5" y="163" font-size="9.4" fill="#111" text-anchor="middle">observed CD274</text>
<line x1="512.60" y1="17.5" x2="512.60" y2="140.5" stroke="#f1f1f1" stroke-width="0.45"/>
<line x1="578.60" y1="17.5" x2="578.60" y2="140.5" stroke="#f1f1f1" stroke-width="0.45"/>
<line x1="644.60" y1="17.5" x2="644.60" y2="140.5" stroke="#f1f1f1" stroke-width="0.45"/>
<line x1="472" y1="126.67" x2="666" y2="126.67" stroke="#f1f1f1" stroke-width="0.45"/>
<line x1="472" y1="96.33" x2="666" y2="96.33" stroke="#f1f1f1" stroke-width="0.45"/>
<line x1="472" y1="65.97" x2="666" y2="65.97" stroke="#f1f1f1" stroke-width="0.45"/>
<line x1="472" y1="35.62" x2="666" y2="35.62" stroke="#f1f1f1" stroke-width="0.45"/>
<line x1="479.60" y1="17.5" x2="479.60" y2="140.5" stroke="#e9e9e9" stroke-width="0.7"/>
<line x1="545.60" y1="17.5" x2="545.60" y2="140.5" stroke="#e9e9e9" stroke-width="0.7"/>
<line x1="611.60" y1="17.5" x2="611.60" y2="140.5" stroke="#e9e9e9" stroke-width="0.7"/>
<line x1="472" y1="111.50" x2="666" y2="111.50" stroke="#e9e9e9" stroke-width="0.7"/>
<line x1="472" y1="81.15" x2="666" y2="81.15" stroke="#e9e9e9" stroke-width="0.7"/>
<line x1="472" y1="50.80" x2="666" y2="50.80" stroke="#e9e9e9" stroke-width="0.7"/>
<line x1="472" y1="20.45" x2="666" y2="20.45" stroke="#e9e9e9" stroke-width="0.7"/>
<path d="M515.7 60.9h0M509.9 95h0M486.4 106.6h0M490.1 79.1h0M526.6 71.6h0M539 56h0M524.7 63.8h0M486.8 100.4h0M504.7 57.3h0M544.7 50.2h0M531.3 75h0M503.6 78.7h0M504.9 73.3h0M498.8 99.9h0M494.8 88.6h0M527.1 70.9h0M530.4 77.3h0M489.2 107.9h0M525.7 54.8h0M485.7 102.8h0M491 114.9h0M483.8 94.2h0M491.1 98.6h0M497 102h0M516.4 79h0M534.3 34.5h0M530.6 71.7h0M487.9 112.7h0M507.6 87.9h0M490 93.1h0M520.6 52.9h0M501.7 83.5h0M496.3 74.2h0M512.3 76.3h0M509.6 102.4h0M496.3 85.5h0M496.5 76.8h0M499.6 79h0M510.3 62.9h0M503.1 86h0M510.8 75.5h0M495.2 83.4h0M510.6 64h0M523.6 70.8h0M499 99.5h0M527.4 68.7h0M545 55.8h0M488.7 102.7h0M508.9 88.8h0M490.5 84.6h0M484.6 92.4h0M488.1 103.4h0M497.3 93.2h0M492.7 89.5h0M516.3 68.3h0M511.7 99.1h0M506.1 72.3h0M502.4 91h0M482.1 105h0M503.7 88.4h0M493.5 78.6h0M507.4 77.5h0M536.3 63.8h0M531.8 53.1h0M485.6 97.4h0M488.5 97.8h0M487.8 104.4h0M520.7 86.6h0M540.3 72.1h0M486.3 108.7h0M489.7 116h0M534.2 50.4h0M515.6 78.9h0M490.1 79.3h0M494.1 89.8h0M502.6 73.3h0M493 79h0M507 73.6h0M501.4 60.5h0M492.8 104h0M505.5 74.2h0M491.3 95.4h0M497.6 82.2h0M487.3 72.1h0M511.6 78.6h0M504.8 77.6h0M482.1 110.9h0M492.7 102.8h0M505 104.1h0M521.6 61.3h0M506.3 62.5h0M520.7 67.3h0M493 77.8h0M500.8 100.9h0M532.8 62h0M511.7 76.8h0M501.7 74.9h0M515.2 54h0M501.4 97.6h0M485.4 102.2h0M492.1 88.7h0M519.5 76.9h0M518.8 64.8h0M538.8 77.8h0M523.7 78.2h0M496.9 65.9h0M503.4 67.1h0M482.9 93.6h0M509 66.2h0M507.9 81.6h0M495.3 93.1h0M500.1 110.5h0M513.5 62.2h0M508.9 79.8h0M495.2 114.6h0M535.9 68.4h0M509.9 70.5h0M529.6 81.7h0M503.4 88.9h0M516.1 98.3h0M534.3 65.1h0M505.7 90.1h0M517.9 65.1h0M516.6 76h0M494.8 73.2h0M502.5 73h0M513.2 60.1h0M532.7 75.4h0M533.5 71.3h0M515.4 68.4h0M486.9 93.3h0M498.4 90.3h0M501.6 96.4h0M499.7 92.1h0M493.7 87.5h0M529.1 45h0M515.7 65.2h0M514.3 72.3h0M516.4 65.2h0M503.6 70.6h0M518.8 80.7h0M546 41.2h0M482.8 96.8h0M483.9 90.4h0M509.7 71.6h0M497.5 96.5h0M536.4 63.3h0M529.3 61.9h0M507.2 110h0M486 110.6h0M522.3 74.6h0M483.1 110.6h0M505.8 92.8h0M501.6 97.6h0M494.1 95.4h0M523.9 73.8h0M501.4 68.8h0M491.6 94.9h0M518.2 60.3h0M532.2 61.8h0M484.9 102.3h0M496.7 75.2h0M548.5 54.8h0M485.2 117.6h0M486.1 108.1h0M522.8 60.2h0M487.6 118.8h0M521.2 71.9h0M542.1 55.8h0M495.2 109.1h0M508.2 63.9h0M521.8 86.2h0M514.7 85.1h0M496.2 84.7h0M520.2 65.1h0M487.6 96.5h0M541.2 57.9h0M522.9 47.2h0M523.6 50.6h0M494.3 91.4h0M538.2 59.4h0M515.4 66.9h0M536.4 50h0M543.7 65.2h0M544.6 38.2h0M498.6 85.4h0M502.3 70.7h0M525.9 61.1h0M517.9 71.4h0M526.7 47.7h0M520.8 63.5h0M526.8 44.8h0M496.1 82.4h0M484.1 76.3h0M501.3 83.5h0M503.3 91.9h0M501.6 97.4h0M514.3 70.8h0M530.9 79h0M544.7 38h0M497.3 81.9h0M516.1 74.8h0M501.6 75.6h0M498.8 68.1h0M485.7 103.9h0M498.7 85.6h0M492.8 87.2h0M520 64.4h0M517.1 67.6h0M512.1 59h0M497.1 95.8h0M515.1 68.4h0M525.9 73.3h0M512.5 78.7h0M492.6 93.6h0M507.1 96.8h0M498 93.7h0M507 93h0M516.9 79.3h0M513.2 80h0M482.9 95.7h0M490.9 80.3h0M520.3 58.6h0M499.7 95.8h0M502.8 79.4h0M504.6 74.9h0M530.6 52.7h0M535.5 62.7h0M512.4 74.4h0M497 79.1h0M507.8 70h0M490 102.9h0M528.8 83h0M547.4 56.7h0M510.9 83.2h0M504.8 81.6h0M483.6 96.8h0M538.7 73.8h0M509.8 86.2h0M538.3 61.3h0M493.4 111.9h0M491.3 97.4h0M531.1 67.4h0M506 76.3h0M507.8 70.6h0M509.4 80.6h0M529.4 59.6h0M509.4 75.1h0M515.4 60.1h0M492 116.3h0M506.6 83.1h0M539.6 65.7h0M529.2 61.4h0M485.9 88.5h0M508.6 75.7h0M490.7 91.9h0M490.2 93.4h0M498 100.2h0M542.6 47.5h0M535.3 64.5h0M485.4 103.8h0M483.1 98.2h0M493.7 87.3h0M522.7 65.6h0M513.3 75h0M487 93h0M534.9 81.1h0M502.3 92.7h0M512.2 74.2h0M524 67.2h0M513.1 64.7h0M522 55.7h0M492.5 92.2h0M485.8 105.8h0M499.7 66h0M519 80.1h0M530.2 63.4h0M496.7 65.2h0M493 85.8h0M521.6 60.7h0M509.5 77.6h0M508.6 63.9h0M491.9 90.6h0M549 54.8h0M530.4 47.9h0M524.5 42.9h0M489.3 92.6h0M488.3 108.1h0M523.6 62.1h0M489.9 105.8h0M522.1 55.8h0M544 53.2h0M508.6 68.2h0M521.7 91.8h0M515.5 68.3h0M491.4 92.4h0M504.6 78.2h0M500 103.4h0M492.5 77.3h0M485 109.5h0M494.7 85.7h0M512.6 80h0M499.5 94.2h0M485.8 114.5h0M519 68.1h0M497.6 109.4h0M509.3 64.4h0M508.2 95h0M513 76.2h0M506 73.8h0M517.3 86.6h0M518 63.8h0M492.2 93.7h0M547 62h0M507.3 73.8h0M508.7 64.5h0M502.3 68.2h0M491.3 115.1h0M528.6 47.1h0M489.9 83.8h0M503.4 78.9h0M513.1 65.7h0M520.6 54.7h0M516.9 74.1h0M517.7 85.2h0M527 66.8h0M500.4 77.4h0M548.3 58.7h0M509.6 84.7h0M525 80.3h0M492.9 86.4h0M514.9 85.4h0M484.6 104.5h0M522.5 75.5h0M491.6 78.5h0M512.4 62.4h0M515.1 80.8h0M489.9 107.9h0M516.6 67.9h0M496.1 106.1h0M514.7 78.6h0M500.3 77.2h0M494.1 90.9h0M525.9 54h0M521.2 76.6h0M504.2 87.3h0M508.2 79.7h0M510.9 65.6h0M531.9 45.8h0M503.7 80.8h0M536.6 66.4h0M512.1 79.7h0M518.7 69.4h0M505.9 98.7h0M504.7 92.4h0M498.7 107.9h0M516.6 67.6h0M522.6 63.9h0M533.4 70.6h0M495.9 78.1h0M487.8 97.1h0M498.5 88.6h0M516.1 63.5h0M537.9 52.9h0M488.8 109.9h0M497.1 96.6h0M516.7 88.2h0M507.2 71.6h0M502.9 84.2h0M497.6 77.1h0M521.5 75.9h0M511.3 89.7h0M485.7 87.2h0M610.9 22.7h0M610 29.2h0M601.3 25.9h0M591 27.2h0M591.9 29h0M581.4 28.6h0M584.1 29.9h0M569.7 27.5h0M565.2 28.4h0M561.6 31.3h0M572 31.7h0M575.1 34h0M567.5 32.6h0M550.3 33.1h0M554.7 36.6h0M570.6 37.5h0M572.4 38.6h0M571.5 40.7h0M573.3 42.5h0M575.7 43.1h0M578.4 44.7h0M584.7 38.4h0M590.5 41.6h0M607.6 39.8h0M610.9 44h0M584.1 46.1h0M588.1 47.1h0M590.5 47.4h0M600.4 49.6h0M593.2 52.3h0M633.5 49h0M658.6 46.1h0M616.3 57.7h0M633.5 63.5h0M627.2 72h0M632.2 73.6h0M580.9 72.4h0M578.2 63.1h0M575.1 64.2h0M568.2 58.3h0M568.8 59.7h0M575.1 51.9h0M567 52.5h0M564.6 51.6h0M563.9 50.1h0M566.6 43.1h0M561.6 41.3h0M550.7 38.9h0M548.9 42.2h0M551.6 48h0M553.4 48.5h0M555.8 49.4h0M549.4 50.7h0M548.5 53.4h0M550.2 52.5h0M556.7 55.2h0M552.5 57.4h0M551.6 59.7h0M555.2 60.2h0M555.8 61.5h0M550.7 64.2h0M548 58.8h0M558.3 65.5h0M550.2 72.9h0M562.5 78.3h0M554.9 83.4h0M480.3 125.6h0M483.8 124.4h0M481.5 130.3h0M481.9 135h0M490.9 58.1h0M507.4 50.8h0M530.4 33.8h0M519.6 104.9h0M533.9 97.4h0" stroke="#000" stroke-width="3.20" stroke-linecap="round" fill="none"/>
<line x1="472.00" y1="88.14" x2="548.81" y2="17.50" stroke="#2a2aff" stroke-width="1.0"/>
<line x1="481.07" y1="140.50" x2="614.81" y2="17.50" stroke="#2a2aff" stroke-width="1.0"/>
<line x1="472.00" y1="118.49" x2="581.81" y2="17.50" stroke="#ff0000" stroke-width="1.3"/>
<text x="479.60" y="151.7" font-size="9.2" fill="#585858" text-anchor="middle">0</text>
<text x="545.60" y="151.7" font-size="9.2" fill="#585858" text-anchor="middle">2</text>
<text x="611.60" y="151.7" font-size="9.2" fill="#585858" text-anchor="middle">4</text>
<text x="468" y="115.21" font-size="9.2" fill="#585858" text-anchor="end">0</text>
<text x="468" y="84.86" font-size="9.2" fill="#585858" text-anchor="end">1</text>
<text x="468" y="54.51" font-size="9.2" fill="#585858" text-anchor="end">2</text>
<text x="468" y="24.16" font-size="9.2" fill="#585858" text-anchor="end">3</text>
<text x="569" y="10.2" font-size="13.1" fill="#1a1a1a" text-anchor="middle">SKCM</text>
<text x="450.5" y="8.2" font-size="10.5" font-weight="bold" fill="#000">c</text>
<text x="569" y="163" font-size="9.4" fill="#111" text-anchor="middle">observed CD274</text>
<line x1="117.43" y1="173.0" x2="117.43" y2="360" stroke="#f1f1f1" stroke-width="0.4"/>
<line x1="269.49" y1="173.0" x2="269.49" y2="360" stroke="#f1f1f1" stroke-width="0.4"/>
<line x1="421.55" y1="173.0" x2="421.55" y2="360" stroke="#f1f1f1" stroke-width="0.4"/>
<line x1="22.2" y1="332.20" x2="509.7" y2="332.20" stroke="#f1f1f1" stroke-width="0.4"/>
<line x1="22.2" y1="289.40" x2="509.7" y2="289.40" stroke="#f1f1f1" stroke-width="0.4"/>
<line x1="22.2" y1="246.60" x2="509.7" y2="246.60" stroke="#f1f1f1" stroke-width="0.4"/>
<line x1="22.2" y1="203.80" x2="509.7" y2="203.80" stroke="#f1f1f1" stroke-width="0.4"/>
<line x1="41.40" y1="173.0" x2="41.40" y2="360" stroke="#e9e9e9" stroke-width="0.6"/>
<line x1="193.46" y1="173.0" x2="193.46" y2="360" stroke="#e9e9e9" stroke-width="0.6"/>
<line x1="345.52" y1="173.0" x2="345.52" y2="360" stroke="#e9e9e9" stroke-width="0.6"/>
<line x1="497.58" y1="173.0" x2="497.58" y2="360" stroke="#e9e9e9" stroke-width="0.6"/>
<line x1="22.2" y1="353.60" x2="509.7" y2="353.60" stroke="#e9e9e9" stroke-width="0.6"/>
<line x1="22.2" y1="310.80" x2="509.7" y2="310.80" stroke="#e9e9e9" stroke-width="0.6"/>
<line x1="22.2" y1="268.00" x2="509.7" y2="268.00" stroke="#e9e9e9" stroke-width="0.6"/>
<line x1="22.2" y1="225.20" x2="509.7" y2="225.20" stroke="#e9e9e9" stroke-width="0.6"/>
<line x1="22.2" y1="182.40" x2="509.7" y2="182.40" stroke="#e9e9e9" stroke-width="0.6"/>
<path d="M166.7 275h0M183.3 217.5h0M89.6 281.4h0M108 261.4h0M155.5 231.4h0M158 267.3h0M73 288.9h0M165.8 259.8h0M96.6 289.2h0M90.3 263.4h0M156.2 248.1h0M115.3 272h0M113.4 242.9h0M207.3 205h0M121.1 298.1h0M111.6 283.2h0M96.7 268.9h0M93.3 283.8h0M92.6 256.6h0M107.2 232.5h0M87.6 317.7h0M110.3 246.4h0M103.5 309.5h0M106.4 272.4h0M145.5 234.8h0M113.8 260.2h0M121.9 276.4h0M53.2 312.4h0M120.8 262.4h0M125.9 262.8h0M80.3 279h0M122.5 242.4h0M210.2 256h0M146 266h0M111.3 270.4h0M137.8 289.5h0M59.9 304.3h0M85.3 281.1h0M74.7 288.2h0M91.9 287.9h0M137.1 238.5h0M90.8 262.8h0M163.1 231.7h0M98.9 279.1h0M134.3 256.7h0M62.3 275.8h0M160.4 251.2h0M186.7 211.1h0M146 237.8h0M186.6 234.9h0M104.6 276.4h0M114.9 288h0M119.3 279.4h0M98.2 251.6h0M150.1 255.1h0M60.5 309.2h0M157.6 244.2h0M91.3 284.2h0M205.4 230.5h0M87.5 294.4h0M151.7 238.5h0M148.8 238.2h0M89.3 287.6h0M61.2 283h0M91.3 300.4h0M91.3 286.4h0M89.7 294.2h0M156.9 266.8h0M100.8 286.2h0M83.9 266.7h0M132 243.5h0M192.7 225.7h0M138.5 270.4h0M105.7 275.2h0M84.3 268.2h0M134.6 248.9h0M100.5 287.8h0M80 278.2h0M123.4 257.3h0M179.2 207.9h0M151.3 251.5h0M124 277.7h0M191 255.1h0M141.5 230.4h0M138.2 250.7h0M168.1 245h0M127.1 235.5h0M52.6 295.4h0M96.1 309.8h0M84.7 265.6h0M166.2 253.2h0M120.7 285h0M46.8 299.8h0M102.3 274.1h0M117.1 257.1h0M175.3 238.7h0M85.7 310.5h0M121.3 254.9h0M87.3 278.3h0M59.5 280.8h0M97.9 280.2h0M109.7 246.1h0M54.5 309.1h0M110.3 282.5h0M115.3 224.4h0M88.8 263.2h0M199.7 214.6h0M110.9 253.9h0M66.8 320.4h0M193.9 236.8h0M111.9 267.2h0M109.3 248.8h0M109.9 257.4h0M143.9 245.2h0M102.8 270.4h0M88.7 288.7h0M76.9 270.2h0M124.1 276h0M141.1 247h0M111.4 256.3h0M49.5 309.9h0M179.4 241h0M201.7 250.7h0M78.9 261.7h0M197.9 258h0M137.6 277.1h0M163.9 263.1h0M106.9 284.8h0M117.8 275.6h0M112 249.2h0M88.7 274.1h0M158.3 253h0M63.2 264.4h0M106.3 265.2h0M132.6 240.3h0M96.8 272.8h0M138.3 248.4h0M112.7 237.1h0M72.6 314.1h0M134.4 251.4h0M194.2 240h0M78.3 280.2h0M179.4 240.3h0M84.4 311.8h0M80.9 257.2h0M145.3 253.1h0M140.3 253.9h0M115.2 277.8h0M190.1 242.1h0M182.1 243.9h0M133.7 250.6h0M74.7 280.8h0M58.1 301h0M59.7 268.1h0M106 259.2h0M110.3 285.4h0M163.1 261.2h0M60.4 304.8h0M136 270.3h0M99.6 307.8h0M58.6 289.6h0M110 269.3h0M112.1 257.8h0M71.8 272.6h0M102.7 275.4h0M111.6 280.8h0M120.6 264.9h0M100.5 264.4h0M164.3 281.7h0M65.7 296.1h0M183.1 235.8h0M167.6 224.3h0M107.9 255.2h0M185.3 247.3h0M70.7 283.3h0M90.4 266.9h0M120.9 253.3h0M52.1 314.2h0M93.6 286.2h0M109.6 253h0M106.3 248.4h0M130.6 250.2h0M99.7 277.6h0M170 231.2h0M90 261.7h0M94.2 254.1h0M135 235.7h0M117.8 264.8h0M117 258h0M73.9 283.2h0M94.4 275.3h0M63.1 313.2h0M134 279.7h0M137.6 287.6h0M125.9 245.8h0M87.3 260.8h0M76.1 312.4h0M78.6 290.9h0M94 262.1h0M96.2 289.2h0M131 259.1h0M96.4 269.5h0M103 290.2h0M139.9 245.6h0M70.3 267.8h0M183.2 218.4h0M107 259.3h0M100.1 283.5h0M63.3 270.1h0M106.6 272.8h0M70.3 286.1h0M73 268.7h0M81 265.5h0M127.3 257.6h0M148.2 227.8h0M153.3 231.2h0M142.3 239h0M179.5 232.4h0M122.8 254.2h0M141.3 228h0M76.1 295.6h0M74.5 321.1h0M109 271.8h0M101.7 273.6h0M82.2 286.3h0M98.3 282.9h0M154.4 262.7h0M191.5 229.7h0M128.3 267.9h0M135.7 225.7h0M63 298.6h0M204.8 218.2h0M141.5 272.9h0M76.2 287.1h0M102 251.5h0M124.9 280.8h0M84.9 270.4h0M61.6 319.3h0M85.3 266.7h0M67 294h0M88.1 250.5h0M181.3 241.1h0M77 290.8h0M102.2 275h0M109.6 288.3h0M115.2 259.5h0M185.1 265.6h0M77 295.1h0M118.8 265.8h0M76.8 284.3h0M150.9 244h0M76.3 292h0M174.3 222.3h0M111.1 251h0M66 258.7h0M73.5 306.3h0M156.8 270.4h0M116 256.7h0M154.1 250h0M81.8 277h0M170.4 227.8h0M109.6 265.7h0M100.6 291.5h0M73 277h0M66 295.8h0M104.2 276.6h0M91.8 288.5h0M107.4 238.5h0M85.8 292.8h0M96.3 281.4h0M116.1 240.6h0M137.4 273.5h0M59 308.9h0M77.4 292.2h0M105.7 256.6h0M95.6 259.9h0M83.5 288.9h0M127.6 237.8h0M174 247.4h0M74.1 266.8h0M128.5 259.9h0M85.1 277.7h0M181.2 260h0M134.4 257.7h0M188.9 250.4h0M145.3 266.9h0M62.7 272.7h0M161.3 229.7h0M68.4 312.4h0M110.9 266.5h0M58.3 298.5h0M134.4 263.9h0M101.7 271.3h0M191.4 253.8h0M113.1 278.1h0M61.4 304.3h0M89.9 252.1h0M64.7 297.2h0M102.4 274.8h0M84.8 284.6h0M103.1 299.4h0M100.8 262.7h0M114.7 265.3h0M73.1 305.1h0M62.4 303.4h0M134.9 254.3h0M105.3 256.5h0M130.7 270.6h0M70.1 267.1h0M90 295.8h0M103.9 287.5h0M99.4 294h0M87.1 292.1h0M123 270.6h0M204.3 233.1h0M128.5 251.6h0M114 225.2h0M136.5 256.9h0M49.2 294.6h0M150.2 251.6h0M56.8 318.6h0M79.2 280.3h0M75.6 314.3h0M120.1 253.9h0M88.8 270.8h0M69.8 270.8h0M111.7 275.9h0M143.6 239.6h0M107.6 275.7h0M114.4 280.4h0M118 271.3h0M89.7 294.9h0M99.1 286.6h0M80.9 280h0M135 246.8h0M60.4 305.6h0M82.1 283.8h0M139.4 240.3h0M81.8 247.2h0M91.1 262.7h0M70.5 308.2h0M155.9 209.1h0M60.2 314.1h0M132.6 241.1h0M61.5 311.7h0M73.5 304.3h0M100.7 245.1h0M142.4 271.3h0M107.3 266h0M91.4 279.4h0M130.4 246.2h0M129 239.4h0M111.9 275.3h0M89.9 296.4h0M196.1 225.1h0M122.1 245.3h0M101.9 255.7h0M89 259.1h0M190 220.8h0M145.5 247.3h0M57.1 299.4h0M175.8 246.5h0M97.7 255.8h0M166.2 219h0M55 287.6h0M89.6 270.4h0M100.2 259.1h0M81.2 276h0M70.3 302.9h0M133.3 248.9h0M193.4 230.9h0M142.3 268.5h0M131 266.9h0M88.1 294.9h0M92.6 266.1h0M135.1 238h0M92.3 265.5h0M112.9 260.5h0M145.9 238.2h0M173.3 251.7h0M145 260.4h0M101.2 300.4h0M167.6 266.1h0M79.6 264.9h0M161.9 263.6h0M147.3 246.3h0M164.8 247.7h0M102.7 261.4h0M130 235h0M110.7 283.4h0M81.8 296.2h0M161.3 247h0M66.2 300.6h0M65.5 263.4h0M65.3 301.1h0M59.2 295.3h0M79.7 285.2h0M125.6 267.1h0M87.1 265.6h0M75.1 281.2h0M56.4 311.7h0M184.3 236.4h0M79.6 286.7h0M180.8 234.6h0M104.5 275.6h0M90.7 256.8h0M113.2 283h0M109 287.2h0M165.1 243.6h0M55.1 299.7h0M105.2 278.3h0M205.9 231.3h0M181.2 205.5h0M77 274.5h0M64.8 289h0M91.8 278.7h0M127.8 228.6h0M89.1 280.4h0M154.6 262.3h0M69.8 275.5h0M111.3 232.1h0M114.2 282.4h0M124.9 236h0M83.6 257h0M76.5 250.7h0M66.2 285.4h0M170.5 259.1h0M77.1 285.5h0M78.4 276.1h0M78.4 294.2h0M53.7 274.1h0M189.8 216.5h0M195.8 201.3h0M63.5 261.2h0M72.4 284.6h0M124.7 258.9h0M174.6 258.1h0M95.8 280.3h0M82.7 306.7h0M142.2 209.8h0M173.3 238.1h0M66.9 287.6h0M75 290h0M132.3 247.4h0M148.6 209.5h0M123.2 268.2h0M52.5 296.6h0M163.2 232.3h0M176.7 245.4h0M199 238.3h0M143.9 265.8h0M187.7 235.8h0M82.5 248.7h0M165.5 229.8h0M105.1 280.1h0M106.9 279.5h0M71.1 253.4h0M58.9 302.9h0M97.3 283.4h0M96.4 260.6h0M71.1 296.4h0M126.5 231.3h0M76.4 294.3h0M219.5 223.7h0M174.5 267.7h0M74.3 281.7h0M96.1 287.5h0M149 245.8h0M67.4 288.1h0M96.5 285.2h0M106.7 271.1h0M102.9 283.8h0M81.3 263.4h0M145.2 278h0M188.6 224.5h0M92.7 239.2h0M72 310.2h0M91.7 253.2h0M65.9 279.2h0M168.2 229.1h0M138.3 268.1h0M183 231h0M141.6 236.1h0M78.5 261.7h0M54.1 328.1h0M97.4 261.9h0M141 257.1h0M83 292.1h0M89.8 270.9h0M158.1 269h0M154.3 281.6h0M209.7 251.7h0M155.2 234.6h0M116.4 283.9h0M112.8 275.6h0M135.5 246.8h0M128.7 271.5h0M119.4 287.3h0M110.2 274.9h0M88.9 284.1h0M85.3 273h0M103.6 269.7h0M135.4 244.5h0M134.5 258.2h0M81 285h0M76.8 285h0M55.9 302.6h0M149.4 272.7h0M96.5 284.5h0M163.9 232.1h0M111.3 282.7h0M108.4 243.4h0M114.7 288.6h0M112.5 266.6h0M106.6 257.7h0M159.1 222.7h0M99.1 253.5h0M126.9 227h0M79.1 269.6h0M174.7 226.1h0M164.1 243.3h0M91.6 272h0M168 229.4h0M70.9 321.3h0M67.8 299.9h0M61.9 289.8h0M66.6 305.7h0M174.8 239.3h0M186.7 264.4h0M64.8 270.6h0M118.3 273h0M198.1 258.2h0M84.8 280h0M64.7 303.7h0M148.9 259.9h0M71.8 289h0M105.5 243.8h0M88.6 301.3h0M127.2 272.7h0M83.5 276.4h0M188.8 214.4h0M52.4 328.7h0M160.2 246.2h0M162.9 241.9h0M181.1 238.1h0M68.2 281.3h0M93.3 265h0M174.4 229.7h0M81.8 307.2h0M70.4 277.5h0M67.3 284.9h0M165.9 274.8h0M109.2 263.8h0M116 273.1h0M156.6 264.9h0M76.5 269.9h0M175.3 236.5h0M147.5 239.3h0M95.3 263.4h0M66.4 279.9h0M73.1 265.1h0M117 248h0M180.2 205.9h0M130.3 269.8h0M131 272.5h0M202.4 206.2h0M77.2 283.5h0M189.6 234.2h0M93.9 285.6h0M164 261.1h0M106.3 264.3h0M50.1 304.6h0M110.2 262.9h0M129.7 236.8h0M86 252.8h0M100.6 271.6h0M92.5 269.7h0M144 266.6h0M156.6 220.3h0M59.1 298.2h0M103 257.3h0M162.8 223.1h0M98.6 266h0M138.3 258.5h0M123.5 245.3h0M102.8 231.4h0M106.3 265h0M155.7 266.6h0M110.5 293h0M117.5 246.7h0M68.1 285.9h0M89.1 311.9h0M81.4 308.2h0M107 280.8h0M115 274.1h0M150.8 225h0M101.3 233.1h0M108.3 278.9h0M164.9 246.2h0M78.8 284.5h0M101.7 284.6h0M109.6 282h0M183.5 218.3h0M131.7 264.7h0M66.9 291.8h0M104.7 283.6h0M85.2 262.7h0M128.3 225.6h0M109.3 254.2h0M210.9 218h0M57 301.9h0M101.4 283.7h0M80.5 272.2h0M126.7 257.9h0M209.1 234.9h0M103.7 266.6h0M149.7 274.8h0M100.4 259.6h0M83.5 249.7h0M79.5 289.9h0M58.5 275.3h0M47.6 307.3h0M146 262.5h0M86.2 273.1h0M139.9 231.6h0M121.2 279.4h0M163.9 241.9h0M121.1 284.3h0M87.9 303.1h0M122.9 264.4h0M172.6 235.8h0M105.1 274.5h0M150.5 253.9h0M103.6 280.4h0M137 269.6h0M179.3 219.4h0M72.9 287.4h0M69.6 305.7h0M98.6 278.3h0M167.6 263h0M98.9 239.7h0M74.2 289.4h0M104 271.1h0M83.6 314.3h0M134.8 236h0M75.5 266.1h0M178.3 269.5h0M87.6 279.5h0M87.1 316.8h0M155.6 238.1h0M187.9 239.9h0M79.7 274.7h0M144.3 249.2h0M108.4 266.6h0M63 310.2h0M143.5 251.4h0M135.5 276.6h0M119.7 296.5h0M83.7 282h0M99.2 259.6h0M195.3 239.2h0M135.5 252.9h0M122.9 276.6h0M123.2 266.5h0M134.7 252.7h0M164.7 219.8h0M112.3 288.5h0M111.3 275.5h0M126 295.3h0M156.8 266.9h0M128.3 248.3h0M142.1 242.6h0M101 282.8h0M65.4 272.6h0M122.2 262.1h0M114 279.1h0M156.5 254.8h0M126 269.8h0M123.6 261.6h0M137.1 263.7h0M155.9 224.2h0M88.9 276.5h0M194.9 222.1h0M148.8 251.9h0M103.1 275.2h0M99.1 290.7h0M139.7 235.7h0M82.9 240.4h0M154.4 263.3h0M151.7 246.3h0M181.3 202.7h0M89.2 244.6h0M95.4 272.8h0M135.9 269.8h0M103.2 274.1h0M139 225.8h0M117.9 291.6h0M170.7 254.2h0M90.7 264.4h0M148.7 240.8h0M66.3 295.4h0M128.1 255.3h0M120 279h0M126.9 288.5h0M165.9 237.5h0M100.6 278.1h0M122.3 245.3h0M114.4 277.9h0M106.6 261.8h0M178.3 235.7h0M110.4 253.4h0M84.3 264.8h0M133.9 290.1h0M87 271.8h0M59.9 305.9h0M141.1 251.4h0M118.2 275.1h0M69.6 304.1h0M154.9 234.8h0M98 281.3h0M70.6 257.2h0M137.3 257.7h0M175.1 255h0M152 263.3h0M111.6 296.1h0M152.2 263.1h0M113.2 261.6h0M57.5 283.8h0M207.8 206.2h0M186.9 235.4h0M166.9 236.7h0M98.8 262.1h0M105.1 283.7h0M163.8 231.8h0M88.2 266.6h0M141.9 261.5h0M60.9 292.2h0M87.9 269.6h0M202 204.4h0M166.2 218.7h0M189.3 233.5h0M149.6 259.5h0M74.2 286.9h0M73.5 264.9h0M106.6 285.3h0M96.6 272h0M78.4 260.1h0M143.2 242.7h0M167.3 233h0M150.7 223.6h0M145.4 261.9h0M142.5 267.3h0M116.2 259.1h0M106.9 265.8h0M80.2 279.8h0M133.1 241.3h0M187.6 235.5h0M83.4 294.9h0M79.4 271.7h0M123.4 243.3h0M59 307.3h0M207.4 199.3h0M97.4 258.3h0M69.4 271h0M99.3 250.9h0M79.3 247.4h0M53.7 331h0M115.5 260.8h0M185.9 227.2h0M126.4 270.3h0M191.4 255h0M67.4 273.9h0M179.8 230.7h0M107 265.2h0M83.9 285.5h0M126.8 217.2h0M117.2 272.4h0M67 297.5h0M86.1 286.9h0M104.1 240.5h0M126.9 283.6h0M102.9 272.6h0M136.1 275.3h0M209.6 232h0M77.2 288.7h0M135.8 267.2h0M115.7 279.6h0M81.3 274.8h0M82.8 247.6h0M125.9 268.1h0M133.6 271.7h0M90.3 299.9h0M125.5 248.3h0M88.1 313h0M165.6 239h0M137.8 260.3h0M99.5 267.9h0M74.6 279.6h0M53.9 271.6h0M100.4 271.1h0M65.5 284.3h0M136.9 262.8h0M167 207.8h0M59.2 329.6h0M97.8 279.3h0M120.3 274.7h0M140.6 238h0M193.9 252.3h0M71.7 297.4h0M112.4 262.8h0M141.8 244.3h0M48.8 280.4h0M81.9 258.2h0M173.1 249.9h0M148.7 256.6h0M63 308.2h0M97.2 301.9h0M155.5 228.8h0M100.9 281.5h0M117.7 255.9h0M60.3 296.3h0M71.3 273.4h0M100.3 306.8h0M117.4 279.2h0M91.8 261.5h0M87 294.8h0M85.5 312.2h0M72.7 291.8h0M124.3 263.2h0M149.6 246h0M122.7 289.6h0M92.2 302.6h0M81.9 265.6h0M151.9 247h0M66.4 270.1h0M134.5 259.9h0M172.9 246.2h0M87.4 305.4h0M186 259.7h0M63.2 274.7h0M74.4 316h0M94.6 268.1h0M150.6 286.8h0M122.3 244.2h0M80.2 283.5h0M68.4 304.7h0M153.1 246.9h0M143.1 245.6h0M73.3 300.9h0M77.4 263.8h0M112.2 280.9h0M98.8 278.6h0M94.1 276.6h0M165.4 210.5h0M103.1 247.8h0M91.5 257.5h0M124.7 279.7h0M126.8 246.5h0M53.1 272.6h0M93.2 274.7h0M195.4 239.4h0M100.7 281.3h0M55.3 286.3h0M61.1 306.7h0M99.1 282.9h0M104.4 249.7h0M149.8 250h0M85 274.5h0M127.5 284.9h0M76.6 291.3h0M142.7 233.7h0M130.4 265.3h0M110.4 240.6h0M144.6 266.2h0M71 314.6h0M124.2 249.9h0M122.4 279.7h0M155.6 260.6h0M111.7 253.2h0M80.5 301.9h0M103.8 292.2h0M186.8 254.9h0M113.2 262.8h0M178.1 257.6h0M142.3 263.1h0M92.2 276.5h0M188 236.7h0M108.7 252.1h0M118.8 250.5h0M185.4 245.1h0M105.9 280.7h0M143.2 250.8h0M130.7 275.5h0M73.9 311.4h0M99.3 278.9h0M142.2 263.7h0M146 258.1h0M178.7 231.7h0M183.2 200.9h0M76 305.9h0M189.5 244.5h0M148.9 252h0M151.5 256.3h0M115.9 271.1h0M88.6 283.4h0M77.2 284.8h0M76.2 287.2h0M139.2 270.1h0M57.5 321.2h0M65.5 266.2h0M143 249.5h0M188.2 213h0M157.9 227.8h0M155.8 256h0M92.1 271.4h0M155.3 253.5h0M112.5 290h0M64.9 286.1h0M201.7 226.8h0M133.4 251h0M102.9 262.9h0M97.7 287.9h0M65.3 254h0M93.1 284.5h0M71.3 293.1h0M114.3 261h0M105 244h0M91.2 259.1h0M192.7 231.4h0M85.7 296.4h0M93.1 293.9h0M123.2 278.4h0M66.1 299.5h0M115.1 234h0M84.4 275.9h0M78.7 283.7h0M84.1 297.1h0M140 242.1h0M92.8 281.7h0M64.6 318.1h0M63.9 286.1h0M185.5 217.5h0M149.7 269h0M160.5 273.8h0M120.3 224.7h0M124.5 247.1h0M100.5 287.7h0M78.8 286.3h0M172.9 245.2h0M137.5 274.9h0M60.7 272.3h0M132.5 238.8h0M152.2 244h0M69.4 301.4h0M101.5 276.7h0M165.5 251h0M124.7 260h0M71 290.5h0M151.5 262.7h0M192.4 231.9h0M92.9 272.4h0M116.1 266h0M80 299.5h0M123.4 269.6h0M155.9 246.1h0M111.5 278.6h0M120.3 233.7h0M110.7 268.2h0M81.4 277.4h0M49.5 291.1h0M65.9 264.7h0M83.8 297.5h0M53.7 309.2h0M101 242.9h0M86.2 282.9h0M66.7 281.7h0M106.3 249h0M185 250.8h0M116.2 285.3h0M131.8 230.1h0M75.3 283.7h0M150.8 247.5h0M156.8 270.5h0M73.6 274.3h0M201.3 230.1h0M88.8 250.8h0M184.2 209.3h0M87 292.9h0M98.7 236.2h0M169 230.5h0M98.4 242.8h0M165.5 255.2h0M179.3 249.6h0M74.1 291.1h0M121.4 273.2h0M86.5 261.3h0M121.4 256.7h0M157.7 250.1h0M156.1 236.2h0M172.8 253.7h0M84.5 308.1h0M192.8 214.2h0M95.1 268.9h0M180.9 217h0M183.8 232.7h0M117.2 248.6h0M55.3 303.2h0M158.2 278.2h0M130.5 278.2h0M92.3 270.3h0M100.2 255.2h0M144 216.1h0M80.3 280.1h0M64.8 288.4h0M99.9 244.1h0M86.6 277.8h0M170.2 262.1h0M120.6 261.8h0M118.4 278.3h0M115.5 271.7h0M85.1 309.9h0M114.8 272.8h0M145.8 274.7h0M198.9 237.2h0M148.4 218.2h0M204.1 248.7h0M70.3 306.9h0M151.2 244.4h0M109.1 253.5h0M122 266.8h0M121.1 272.8h0M113 247.7h0M129.5 277.8h0M58.2 299.9h0M162.1 276.1h0M189.2 233.9h0M91.3 287.7h0M67.5 291.7h0M86.4 274.7h0M125.6 256.7h0M120.8 292.1h0M114.2 275h0M118.9 303.9h0M89.5 293.7h0M128.4 235.6h0M182.4 258.2h0M129.1 256.2h0M176.7 206.1h0M102.2 274.5h0M85 271.2h0M132.8 265.6h0M73.5 281h0M118.6 227.8h0M158.9 259.3h0M142.5 242.3h0M122.9 252.4h0M105 269.7h0M106.7 271.6h0M46.7 301.6h0M150.8 264h0M95 291.9h0M54.8 323.3h0M170.8 205.4h0M147.9 239.1h0M138.8 263.1h0M133.4 263.7h0M145.2 243.1h0M63.7 304h0M105.4 255.6h0M110.4 241.4h0M118.1 287.6h0M106.7 254.3h0M121.5 251.7h0M82.8 260.3h0M81.9 282.7h0M164.5 251.6h0M85.9 285.8h0M150.3 245.2h0M211.9 243.2h0M110.7 276.8h0M49.3 301.3h0M94.7 289.7h0M134.5 249.4h0M85.3 276.2h0M82.4 306.1h0M184.9 221.7h0M127.2 257.4h0M153.8 241.2h0M150.7 245.2h0M129.6 278.7h0M175.2 245.8h0M98 257.7h0M87.1 285.1h0M117.6 293.4h0M155.7 247.6h0M53.1 296.8h0M144.3 290.4h0M184.7 217.4h0M128.6 223.3h0M108.2 258.5h0M87.1 269.1h0M115.5 254.8h0M72.3 280h0M135.6 253.1h0M204.8 230.6h0M94.9 261.1h0M176.2 245.1h0M68.6 310.3h0M126.6 240.8h0M50 305.3h0M113.1 268.4h0M103.4 262.6h0M105.8 274.6h0M151.8 262.4h0M67.1 302.3h0M73.7 275.9h0M139.3 260.1h0M145.3 235.6h0M81.3 298.4h0M71.6 315.8h0M119 242.5h0M185.1 253.8h0M126.4 241.4h0M61.2 288.4h0M189.7 241.9h0M184.5 222.5h0M77.9 273.9h0M142.9 252.6h0M171.1 252.8h0M82.2 282h0M88.1 292.7h0M171.9 264.1h0M125.7 280.3h0M84.4 244.4h0M136.5 277.5h0M110 271.5h0M186.4 245.9h0M78.3 292.6h0M179.3 213h0M127.4 256.6h0M148.1 241.9h0M107 266.5h0M127.4 273.6h0M76.8 284.3h0M93.8 277.2h0M104.4 253.7h0M50.8 302.9h0M55.7 300.8h0M159.7 228.4h0M142.9 242.8h0M110 260.5h0M48.4 323.1h0M145.7 246.4h0M122.5 233.8h0M69.8 317.5h0M130.9 250.5h0M67.9 285.5h0M110.8 248h0M96.6 281.8h0M94.6 250.8h0M79.9 301.9h0M176.6 223.3h0M109.5 254.8h0M178.2 234.1h0M144.9 258.5h0M63.4 290.7h0M125.2 263.5h0M82.4 311.1h0M161.5 230.2h0M100.3 293.2h0M61.8 294h0M197.4 238.2h0M90 296.2h0M52.8 304.9h0M134.3 245.4h0M81.5 291.2h0M170.5 230h0M107.7 268.9h0M55.9 311.4h0M188.2 235.7h0M62.6 282.8h0M114 236.9h0M58.6 277.3h0M92.5 280.2h0M172.1 243h0M161.4 240.7h0M107.1 264.3h0M121.7 272.1h0M86.4 293.2h0M134.2 245.1h0M76.6 280.8h0M106.4 300.5h0M123.3 286.2h0M172 233.3h0M72.6 268.9h0M179.7 216.7h0M122.3 250.2h0M177.6 222.6h0M153.5 270.9h0M128.3 272.6h0M63.3 282.8h0M212.7 200.2h0M100.8 248.9h0M79.4 286.2h0M176.2 258.4h0M92.6 271.4h0M115.4 282h0M69.9 277.7h0M191.1 240.1h0M73.6 323.7h0M101.6 255.3h0M57.7 277.2h0M84.2 286.2h0M102.9 281.2h0M80.4 289.7h0M100.2 247.6h0M100.4 278.8h0M69.7 288h0M88.8 277.4h0M127.5 277.5h0M63.3 305.2h0M136.2 231.2h0M124.9 272.8h0M149.1 242.7h0M184.9 242.4h0M200.2 226h0M179.6 232.2h0M97.3 268.3h0M160 238.9h0M102.2 267.2h0M98.2 291.5h0M122.4 278.3h0M105.7 246.6h0M206.7 248.5h0M113.9 271.6h0M50.4 287.3h0M141.4 208.7h0M125.2 282.3h0M152.3 245.4h0M181.5 228.8h0M171.7 218.5h0M205.9 224.5h0M97.2 294.1h0M91.8 286.7h0M159.9 229h0M88.7 296.1h0M56.8 285.9h0M114.5 259.8h0M114.9 300.4h0M138.8 239.1h0M105.7 275.3h0M88 284.1h0M102.6 267.1h0M110.6 261.7h0M118.3 258h0M120.3 255.8h0M116.4 279.3h0M182.3 220.7h0M145.6 268.4h0M156.1 253.7h0M98.1 295h0M166.3 249.7h0M74.7 257.5h0M115.7 246.1h0M143.2 261.2h0M54.7 304.9h0M95 286.2h0M132.2 239.7h0M103.6 274.9h0M116.6 278.8h0M139 266h0M80.6 281.9h0M65.9 279.7h0M89 261.4h0M76.4 284.1h0M123.2 287.8h0M118.2 261.6h0M116.8 274.5h0M83 285.1h0M80.8 310.5h0M143.1 246.1h0M137.7 265.4h0M82.6 291.2h0M78.3 282.7h0M94.9 282.8h0M89.3 302.6h0M165.4 197.4h0M136.9 259.8h0M77.5 288.9h0M120.3 275h0M87.1 252h0M55.4 286.6h0M83.8 286h0M174.9 221.4h0M108.9 266.2h0M136.1 260.5h0M134.8 251.2h0M57.7 303.6h0M140 288.6h0M115.4 250.8h0M189.3 246.7h0M102.6 254.4h0M122 241.1h0M83.1 284h0M89.5 282.2h0M204 232.3h0M83.9 315.1h0M211.4 191.8h0M135.8 258h0M102.7 268.5h0M91.2 286h0M72.6 281.9h0M58 299h0M138.4 264.7h0M88.5 259.9h0M86.4 286h0M143.5 243h0M187 252h0M90 264.5h0M154 235.1h0M156.6 258.2h0M97.9 283.2h0M98.2 270.7h0M189.3 253.9h0M109.9 242.9h0M102.7 260.9h0M183.9 234.4h0M95.5 287.2h0M142.9 273.1h0M61.1 280h0M103.4 302.8h0M126.4 262.5h0M79.1 301.8h0M152.8 246.8h0M105.4 272.9h0M85.7 291h0M123.3 274.1h0M119.1 248.8h0M133.4 262.6h0M131.3 245h0M83.6 309.9h0M69.9 276.9h0M59.9 298.8h0M167.5 272.4h0M179 233.4h0M158.6 268.9h0M115.6 289h0M86.3 252.8h0M151.5 249.5h0M67.7 327h0M50.9 304h0M205.3 217.4h0M131.8 273.7h0M52.3 321.3h0M96.1 256.1h0M117.4 249.7h0M49.1 323.4h0M63.2 290.3h0M186.6 240.3h0M133.5 254h0M80.8 284.3h0M162.4 250.9h0M54.8 298.6h0M156.8 239.2h0M141.8 244.9h0M88 269.6h0M114.4 295.7h0M125.3 248h0M83.6 259.3h0M68.1 287.2h0M79.9 279.7h0M53.1 295.9h0M175.4 249h0M169.8 249.7h0M84.3 268.6h0M105.8 293.2h0M151.3 252.2h0M132.8 252h0M91.5 285.2h0M106.7 285.3h0M76.1 255.6h0M158.5 241.3h0M91 304.1h0M86 295.1h0M119.7 279.1h0M89.6 282.1h0M106.9 293.7h0M156.5 244.3h0M85.2 273.1h0M76 313.6h0M124.4 271.4h0M184.2 221.5h0M85.7 261.6h0M78.3 304.6h0M82.5 265.2h0M77.5 291.6h0M117.2 245.4h0M168.1 225.4h0M70.1 280.5h0M134.4 255.9h0M140 269.4h0M89.2 287.2h0M123.7 288.3h0M106 245.5h0M96.7 264.4h0M84.5 278.4h0M140.6 244.8h0M133 286.5h0M95.6 260.9h0M115.2 277.4h0M78.2 248.9h0M108.2 252.5h0M51.3 278.4h0M131 253h0M106.9 279.6h0M127.2 239.2h0M118.6 269.7h0M57.2 283.5h0M97.7 255h0M170.1 238.1h0M125.8 258.8h0M57.3 313.9h0M105.3 263.3h0M78.4 281h0M73.4 300.9h0M70.8 300h0M110.9 286h0M123.8 250.1h0M135.8 262h0M164.9 233.9h0M74.9 284.5h0M48 301.2h0M62 296.8h0M145.3 268h0M127.2 245.9h0M107.7 274.6h0M130.5 268.6h0M107.7 260.9h0M60.6 291.1h0M77.4 310.4h0M122.8 271.8h0M141.4 260.8h0M137.3 254.4h0M140 235.5h0M176.5 224.9h0M73.4 297.5h0M177.1 218.1h0M179.9 250.1h0M142.3 261.1h0M89.5 286.3h0M120.5 261.9h0M83.8 275.7h0M124.1 296h0M57 299h0M97.9 252h0M112.6 255.8h0M78.6 314.6h0M175.4 238.2h0M57 299.5h0M63.7 254.4h0M155.2 222.3h0M136.1 265.8h0M120.3 237.6h0M70.7 277.5h0M101.4 256.2h0M102.6 268.8h0M72.4 295.1h0M117.2 265.1h0M91.7 272.4h0M110.2 256.1h0M61.1 292.3h0M123.5 246.7h0M107.3 279.8h0M103 264.6h0M107.8 289.2h0M94.8 267.4h0M146.9 257.1h0M139 261.3h0M81 317.7h0M170.8 263.6h0M111.1 285.7h0M122.1 272.4h0M105.1 301.2h0M70.6 274.4h0M97.2 269.6h0M59.3 303.3h0M73.7 287.6h0M80.9 244.7h0M92.8 242.6h0M83.9 297.2h0M109 252.3h0M79.2 297.2h0M163.3 232.3h0M69.8 277.1h0M97.8 281.5h0M157.6 264h0M110.5 272.9h0M60.3 279.1h0M75.7 292.8h0M94.5 250.2h0M184.7 238.4h0M83.2 273.3h0M113 272.3h0M127.2 279.7h0M111.2 267.5h0M63.1 311.7h0M152 236.6h0M56.2 304.8h0M198.9 210.1h0M111.1 264.4h0M124.2 254.8h0M68.8 270.1h0M162.1 242.7h0M155.4 260.7h0M141.9 257.7h0M140.2 261.2h0M81.1 267.1h0M171.3 252.2h0M160.1 227.8h0M73.9 292.7h0M80.6 300.8h0M110.4 282.5h0M112.4 269h0M67.2 293h0M123.4 247.9h0M136.5 269.2h0M74.9 268.5h0M89 275.2h0M174.7 258.3h0M97.2 268.1h0M127.1 288h0M171.3 240.4h0M94.1 260.3h0M133.2 284.6h0M137.4 257.3h0M97.2 282.6h0M107.7 254.9h0M193.9 196.2h0M188.8 235.2h0M126.9 274h0M167.5 254.3h0M107.3 254.7h0M51.9 294.6h0M89.2 274.1h0M92.2 298.8h0M109.7 259.8h0M67.1 312.4h0M111.9 254.3h0M125.8 236h0M99.8 256.8h0M81.9 272.8h0M127.6 262.4h0M161 245.6h0M193.5 185h0M151.1 241.4h0M92.4 269.3h0M63.1 298.5h0M64.2 278.3h0M134.9 254.1h0M105.3 252.7h0M144.7 257.7h0M90.9 272.6h0M65.3 297.3h0M65.9 274.1h0M162.4 269.8h0M95.4 285.6h0M65.2 294.8h0M67.6 326.8h0M158.9 242.1h0M85.9 269.1h0M155.9 229.8h0M119.5 247.8h0M183 252.6h0M76.9 306.6h0M120.3 262.9h0M171.2 268.2h0M139.6 223.2h0M152.3 259.8h0M152 230.7h0M120.1 249.8h0M132.2 261.7h0M126.9 257.1h0M125.4 274.8h0M145.3 249.2h0M60.7 282.5h0M67.7 288h0M78.6 281.7h0M103.9 272.5h0M55 314.6h0M155.7 264.4h0M119.4 277.7h0M176.6 229.1h0M79 283.5h0M90.2 296.7h0M76.9 267.1h0M207.6 223.2h0M156.7 233.4h0M125.3 262.5h0M98.8 265.6h0M60 291.1h0M88.7 278.3h0M90.8 297.4h0M76.9 298.9h0M90.1 264.3h0M188.8 238h0M116.6 269.3h0M114 282.8h0M57.5 314.7h0M135.2 287.9h0M119.9 239.4h0M95.5 282h0M179.4 264.1h0M107.3 269.9h0M84.4 258.5h0M60.8 305.5h0M138.8 281.3h0M65.8 314.2h0M148.5 244.5h0M135.8 281.3h0M119.8 243.9h0M117.3 291h0M88.7 278.1h0M89.3 268.4h0M155.8 278.2h0M68.4 291.2h0M78.5 286.9h0M120.8 267.7h0M178.1 221.9h0M102.3 271.1h0M73.1 304.4h0M111.6 287.4h0M133.4 245.4h0M84.8 265.9h0M111.4 276.3h0M91 293.3h0M90.3 272.7h0M95.6 273.5h0M65.5 286.7h0M154.5 245h0M95.6 266.7h0M110.2 231.3h0M81.4 267.1h0M165.6 239.4h0M68.6 284.1h0M99.9 272.3h0M176.6 241.2h0M131.8 243.5h0M103.8 278.4h0M145.5 241h0M83.8 316.8h0M96.8 266.1h0M154.5 251.4h0M176.8 251.2h0M118.2 275.8h0M94.1 244.1h0M132.7 260.2h0M70 283.8h0M91.1 281.2h0M93.3 259.7h0M89.6 286.3h0M122.8 280.2h0M65.2 281.7h0M104.2 268h0M105 272.3h0M76.8 301.7h0M90.3 289.4h0M166.7 237.1h0M119.8 263.3h0M98.2 289.6h0M138.8 283.7h0M202.4 221.3h0M119.5 258.7h0M143.1 241.6h0M61.2 316.8h0M125.9 256.3h0M83.6 305.5h0M100.8 312.5h0M149.7 247.3h0M160.5 266.2h0M109.1 234.8h0M74.9 288.4h0M87.5 285.9h0M134.4 226.9h0M143.1 254.7h0M144.2 253.3h0M137.2 235.3h0M193.1 237.9h0M81.7 298.3h0M170.4 236.1h0M125.9 279.3h0M110.9 247.8h0M105.1 259.4h0M133.2 260.9h0M132.4 252.5h0M147.7 242.2h0M117.6 244h0M103 280.1h0M57.1 286.6h0M160.9 261.4h0M69.2 273.7h0M208.2 214.4h0M79.7 264.4h0M180.4 264h0M92.8 281.3h0M53 302.1h0M50.4 296.1h0M98.8 262.9h0M121.8 255.1h0M129.7 261h0M127.1 265.7h0M79 258.4h0M157.5 257.5h0M101.2 252.6h0M170 242.6h0M74.5 296.8h0M143.3 270.4h0M100.6 259.4h0M66.1 308.7h0M81 284.4h0M80.5 270.9h0M140.9 236h0M157.6 245.3h0M133.2 245.1h0M69 256.4h0M124.9 277.4h0M98 274.5h0M95.6 294.5h0M132.3 257.7h0M125 273h0M106.6 283.4h0M112.7 263.5h0M105.2 272.7h0M81.3 297.6h0M90.8 270.9h0M147 254.3h0M130.3 266.5h0M105.3 254.3h0M123.3 274.4h0M108.6 293.9h0M119.2 257.1h0M80.6 318.4h0M178.9 197.4h0M87.1 288.1h0M86.1 285.8h0M131.7 271.1h0M185.2 252.3h0M75.7 280.6h0M105.3 267h0M182.4 246.8h0M122.8 270.8h0M181.4 234.7h0M139.2 282.7h0M178.4 250.1h0M54.1 299h0M121.1 261.1h0M82.3 310.3h0M59.4 288.9h0M146.1 247.5h0M83.4 274.3h0M124.3 276.3h0M83.4 296.5h0M85.3 287h0M68.8 312.3h0M162.6 239.7h0M82 286h0M197.6 218.2h0M170 258h0M99.7 288.5h0M133.5 277.6h0M141.4 239.6h0M86.4 283.2h0M118.6 253.3h0M64 279.2h0M93.1 306.1h0M130 250.8h0M103.4 268.9h0M89.4 275.2h0M93.2 289.2h0M90.9 310.3h0M113.2 276.5h0M146.3 239.9h0M72.7 270.3h0M158.2 272.2h0M74.7 247.8h0M115 267.2h0M101.8 258.1h0M122.6 244.8h0M73.8 278.8h0M161.7 257.9h0M48.6 339.5h0M123.3 248.4h0M65.4 290.4h0M73.4 294.8h0M146 265.6h0M89.8 265.5h0M109.1 296.6h0M101.2 267.8h0M70.8 299h0M149.7 238.6h0M94.1 293.4h0M88.7 275.7h0M158.6 257.9h0M140.1 249h0M179.7 235.5h0M139.7 282.2h0M61.8 320.3h0M101.4 270.7h0M175.6 217.2h0M81.8 309.9h0M83.9 307.1h0M94.3 271.5h0M100.6 254.8h0M208.6 249h0M142.8 260.8h0M115.4 239.2h0M131.1 237.5h0M85 265.7h0M106 282.1h0M63.8 276.2h0M178 235.7h0M101.7 266h0M124.7 278.5h0M71.5 294.2h0M134.2 270h0M120.8 242.5h0M77.6 297.5h0M76.6 262.3h0M59.1 285.3h0M154.1 265.7h0M111.7 271.9h0M116.2 254h0M115.7 281.7h0M92.2 266h0M98.7 262.9h0M149.7 255.3h0M160.8 234.4h0M93 278.5h0M86.3 269.1h0M60.4 286.7h0M76.5 292.6h0M99.4 260.1h0M132.5 282.6h0M188.2 248.8h0M102.6 278.1h0M114.4 294.9h0M126.6 233.3h0M166 229.5h0M54.3 321.9h0M131 260.9h0M50.8 287.4h0M100 279.9h0M53.1 297.7h0M59.5 276.7h0M94 272.7h0M83.4 282.2h0M80.8 275.1h0M153.7 271.1h0M161.9 247.9h0M177.8 249.2h0M217.3 230.2h0M69.6 274.4h0M182.5 233.2h0M78.3 320.5h0M76.9 279.3h0M164.9 254.8h0M145.3 272.4h0M190.7 251.1h0M86.6 302.7h0M171.6 252.1h0M80.3 290.4h0M111.7 281.4h0M166.8 249.9h0M147 282.8h0M135.7 267.3h0M141.4 251.2h0M81.9 288.9h0M65.1 266.6h0M71 288.9h0M103.5 271.9h0M111 275h0M94 265.1h0M166.2 226.2h0M129.8 256.5h0M76 296.5h0M86.9 263.9h0M107.1 269.3h0M120.2 274.9h0M124.5 249.2h0M94.2 307.2h0M111.8 258.8h0M146.6 225.9h0M70.5 260.9h0M93.6 278.4h0M92.1 252.1h0M71 297.5h0M111.6 263.3h0M116.6 254.5h0M210.3 188.1h0M214.2 187.4h0M233.6 187.6h0M240.1 186.3h0M262.7 182h0M269.1 181.3h0M282.6 188.5h0M296.2 189.2h0M306.3 188.5h0M311.3 185.1h0M329.4 191.9h0M339.1 188.1h0M218.2 193.3h0M227.3 194.4h0M230.2 194.4h0M222.8 196.7h0M223.9 200.5h0M211.5 203.9h0M209.9 205.7h0M219.4 210.2h0M214.8 208.4h0M225 206.1h0M229.5 211.8h0M234 210.7h0M236.3 209.5h0M238.6 207.9h0M242 200.5h0M245.3 198.2h0M247.6 196.7h0M252.1 197.1h0M250.5 203.9h0M253.9 204.3h0M257.8 203.9h0M260.7 199.4h0M264.5 196.4h0M267.9 198.2h0M265.7 201.6h0M261.8 205h0M257.8 209.5h0M254.4 207.3h0M252.1 210.7h0M247.6 209.5h0M244.9 215.2h0M240.8 216.3h0M237.4 216.3h0M249.2 218.6h0M252.8 220.1h0M257.8 215.2h0M261.2 218.6h0M265.7 217.9h0M267.5 214h0M270.2 207.3h0M277 212.2h0M278.1 205h0M281.5 202.1h0M289.4 197.1h0M289.4 200.5h0M291.6 205h0M287.6 210.7h0M285.3 216.3h0M289.4 216.8h0M298.4 207.3h0M300.7 203.9h0M302.9 205h0M301.8 208.4h0M299.8 212.5h0M307.5 201.6h0M313.8 217.4h0M323.3 204.6h0M321.7 208.4h0M322.1 216.3h0M295 224.2h0M282.6 225.3h0M275.4 223.5h0M278.1 224.2h0M269.5 231.7h0M265.2 233.9h0M261.2 229.2h0M257.8 226.5h0M253.2 224.2h0M249.9 225.8h0M246.5 224.2h0M243.1 227.6h0M239.2 229.2h0M235.2 225.3h0M231.8 231h0M229.5 224.2h0M227.3 229.9h0M225 225.3h0M238.6 234.4h0M246.5 235.5h0M245.3 240.5h0M247.6 245.7h0M249.4 248.6h0M244.2 252.4h0M222.8 260.4h0M216.7 258.1h0M213.7 250.2h0M210.3 249.1h0M204.7 255.4h0M196.8 261.5h0M204 261.5h0M223.9 245.7h0M220 237.8h0M217.1 235.5h0M213.7 231h0M209.2 229.9h0M205.8 231h0M202.4 234.4h0M199 229.9h0M196.8 227.6h0M193.4 231h0M192.3 237.8h0M195.6 240h0M200.2 242.3h0M206.9 240h0M211.5 237.8h0M192.3 245.7h0M199 245.7h0M202.4 249.1h0M194.5 251.3h0M192.3 215.2h0M195.6 210.7h0M200.2 209.5h0M196.8 205h0M192.3 206.1h0M203.6 216.3h0M206.9 217.4h0M194.5 223.1h0M201.3 225.3h0M191.1 222h0M216.7 242.3h0M220 242.3h0M212.6 224.2h0M216 222h0M221.2 220.1h0M357.1 193.9h0M357.1 200.6h0M349.8 209.6h0M339.5 187.6h0M45.4 343.3h0M51.9 341.8h0M47.5 351.6h0M48.4 332.2h0M72.2 333.4h0" stroke="#f768b1" stroke-width="2.90" stroke-linecap="round" fill="none"/>
<path d="M160.8 240.3h0M66.1 280.7h0M82.8 284.6h0M126.7 278.5h0M124.7 249h0M169.6 231h0M114.1 273.4h0M118.1 261.8h0M83.9 300.4h0M70.7 276.5h0M60.8 301.4h0M131.4 262.6h0M76.3 284.2h0M146.9 234.1h0M85.5 272.6h0M100 273.3h0M68.5 302.8h0M106.3 270.5h0M115.9 305.4h0M65.8 283.8h0M122.3 240.3h0M123.8 254.5h0M145.4 258.1h0M108 234.1h0M117 284h0M110 276h0M72.7 305.5h0M200.8 182.2h0M99 301.4h0M79.9 289h0M137.7 251.1h0M100.1 279.3h0M170.8 243.5h0M124.1 274.9h0M98.3 252.4h0M131.4 280.9h0M101.5 289.1h0M123.3 258.6h0M98.8 275.2h0M71.2 285.1h0M143.6 252.9h0M95.7 269.9h0M125 270.6h0M88 264.8h0M78.4 282.8h0M122.1 240.7h0M143.1 252.1h0M127.4 250.9h0M121.9 226.3h0M65 300.7h0M186.5 240.6h0M90.3 278.2h0M121.4 289.8h0M174.4 217h0M90.7 267.6h0M82.7 272.7h0M199.7 213h0M105.1 273.9h0M130.5 275.2h0M66.3 298h0M171.1 222.3h0M83.3 286.5h0M151.6 252.9h0M103.8 255.9h0M91.4 301.4h0M131.2 254.6h0M54.6 318.8h0M85.1 264.8h0M150.1 264.5h0M105 248.4h0M82.3 293.2h0M90.1 296.5h0M54.6 305.3h0M95.4 236.1h0M104.8 259.9h0M119.9 276.6h0M75.4 315.5h0M69.7 268.9h0M73.4 309h0M157.7 234.9h0M130.7 284.5h0M165.5 238.1h0M130 227.3h0M110.7 247.4h0M115.7 282.9h0M91.4 284.6h0M121.7 245.7h0M98.5 265.3h0M81 291.5h0M69.3 290.4h0M99.5 272.8h0M210.3 220.5h0M97.4 255.4h0M92.7 273.7h0M110.8 284h0M117.9 250.5h0M110.5 255.1h0M54.9 305.7h0M66.3 300.5h0M70.2 285.2h0M104.9 263.9h0M113.5 283.5h0M142.7 254.2h0M133.3 255.7h0M113.4 280.5h0M70.8 298.4h0M52.1 312.1h0M111.4 240.9h0M73.6 279.6h0M81 279.8h0M115.4 265.4h0M93.1 256.7h0M171.4 262.9h0M80.6 260.4h0M116.1 278.4h0M191.7 243.7h0M95.4 280.8h0M111.6 239.8h0M166.9 264h0M70.5 263.4h0M166.2 224.2h0M132 244.7h0M200.8 235.8h0M116.2 289.4h0M47.1 325.7h0M182.2 267.4h0M71.2 265.2h0M88.8 288h0M128.4 275h0M131.6 235.9h0M173.4 249.7h0M122.3 266.7h0M115.1 243.5h0M112.3 265.7h0M152.3 239.8h0M116.1 267.4h0M93.6 241.6h0M104.3 303.1h0M104.5 285.7h0M120.6 277.7h0M59.2 310.8h0M108.7 239.4h0M85.4 287.7h0M86.2 242.3h0M78.3 277.8h0M125.8 259.4h0M49.9 288.4h0M186.2 254.8h0M84.9 279.9h0M70.6 277.8h0M85.6 311.5h0M153.4 247h0M80.3 260.9h0M130.7 253.1h0M64.6 272h0M198.4 241h0M83.4 251.8h0M98.3 272.3h0M120.3 257.9h0M180 251.5h0M174.4 252.1h0M115 284.4h0M106.8 267.6h0M137 249.1h0M143.7 288h0M97.6 293h0M58.6 312.7h0M53.6 324.2h0M64.7 311.2h0M108.7 284.7h0M104.9 267.6h0M210.2 233.9h0M58.2 307.5h0M74 300.2h0M126.6 261.7h0M65.6 321h0M120.9 257.8h0M77.5 277.7h0M92.9 290h0M67.2 289.3h0M76.9 298.8h0M125.2 268.8h0M55 276.6h0M62.2 330.4h0M90.4 267.1h0M123.8 303h0M111.8 235.3h0M187.3 239.7h0M170.5 233.6h0M107.7 270.2h0M104.8 248.9h0M114.8 271h0M77 277.3h0M70.3 271.3h0M69.8 293.7h0M88.3 288.7h0M156.7 222.9h0M78.1 268.7h0M154.5 258.5h0M186.4 220.8h0M164.4 231.3h0M80.6 284.2h0M125.2 231.1h0M165.4 277.3h0M143.3 249.1h0M117.5 266.9h0M81.1 268.3h0M75.5 316.1h0M94.5 264.6h0M197.2 244.3h0M54.5 300.3h0M53.1 297.1h0M110 270.1h0M78.8 272.4h0M72.5 303.5h0M82.6 269.2h0M104.2 270.7h0M76.8 283.2h0M116.2 270.8h0M103.4 285.6h0M206.1 214.1h0M145.9 266.8h0M120.8 282.1h0M52.1 267.8h0M81.1 256.2h0M168 220h0M146.8 237.8h0M112 247.9h0M169.8 247.2h0M81.6 302.3h0M66.8 274h0M105.3 266.8h0M131.2 257.1h0M106 281.2h0M68.2 307.7h0M73.9 316.6h0M107.3 279.6h0M187.3 235.5h0M185.8 258.4h0M74.2 297.9h0M127 273.4h0M97.9 289.2h0M80.6 266.8h0M132.2 246.4h0M168.4 227.9h0M99.1 295.2h0M156.4 248h0M172.2 233.4h0M109.6 247.7h0M81.2 289.9h0M147.1 247.9h0M77.8 300.5h0M75.5 307.4h0M108.7 279.6h0M116 263.6h0M70.9 289.3h0M132 274.2h0M89.4 259.4h0M99.2 288.4h0M123.5 272.3h0M105.2 265.7h0M74.2 306.2h0M125.3 254.9h0M173.2 237.5h0M136.8 278.7h0M117.4 266.6h0M131 272.8h0M107.1 284.6h0M92.7 302.4h0M144.3 237.2h0M121.6 264.9h0M153.8 205.5h0M106.7 297.3h0M107.1 251h0M124.3 287.7h0M89.5 265.6h0M147.2 228.1h0M165.8 253.4h0M67.2 314.2h0M113.1 291.4h0M176.4 220.3h0M79.3 257.9h0M116.9 276h0M76.2 286.6h0M76.3 315.8h0M104.4 254.7h0M118.8 246.2h0M63.9 311h0M183 219.8h0M88 295h0M76.7 268.3h0M196.7 239.2h0M68.7 294.4h0M113.2 256.7h0M185.5 259.9h0M130.8 249.8h0M75.2 285.6h0M138.2 247.7h0M115.4 253.7h0M74.4 318.4h0M97.6 248.8h0M170.5 209.4h0M179.2 237.6h0M140.8 240.7h0M100.6 254h0M140 258.8h0M152.7 246.3h0M75.4 282.3h0M103.2 300.9h0M125.3 283.7h0M60.8 285h0M76 320.8h0M128.6 277.8h0M92.1 271.7h0M100.4 310.2h0M132.8 262.1h0M94.7 299.6h0M74.6 289.5h0M129.5 257.3h0M113 258.7h0M209.3 228.4h0M135.4 284h0M170.2 212.3h0M131 284.3h0M121.8 236.3h0M125.9 228.3h0M116.7 256.8h0M73.2 295.7h0M123.2 282.6h0M90.4 283.7h0M158 243.1h0M105.8 244.1h0M84.6 280.3h0M135.4 231.2h0M187.7 255.5h0M134.4 285.3h0M79.3 271.3h0M81 306.8h0M88 272.3h0M132.6 264.9h0M191.9 247.6h0M158.7 227.7h0M69.5 318.6h0M153.9 261.8h0M130 267h0M59.6 311.5h0M187.1 247.4h0M154.6 245.5h0M183.9 228.8h0M191.4 254.1h0M128.5 257.2h0M84.4 293.3h0M137.5 274.9h0M94 244.9h0M69 296.9h0M159.7 221h0M87 292.3h0M132.2 232.2h0M74.4 276.9h0M65.8 268.1h0M62.6 291.4h0M70.6 259.8h0M142.5 236h0M81.3 270.2h0M63.4 280.3h0M149.7 260.5h0M141.5 278.7h0M136.6 257.5h0M130 279.5h0M143.4 242.7h0M88 290.4h0M135.5 292.3h0M81.2 286.2h0M150.6 256.4h0M69 283.5h0M174.1 228.1h0M117.6 272h0M185.1 231.9h0M113 285.5h0M150.9 243.3h0M59.2 292.2h0M109.2 299.6h0M116.6 261.7h0M114.9 272.3h0M89.6 297.9h0M116.3 270.8h0M112.3 296h0M135.8 235.9h0M103.7 285.5h0M140.7 230h0M125.2 289.8h0M133.5 259.6h0M99.6 294.7h0M177.4 242.8h0M111.3 259.2h0M143.9 257.3h0M126.5 282.8h0M144.7 262.8h0M136.4 249.8h0M197.9 214.9h0M110.5 263.8h0M90.9 270.5h0M126.6 284.3h0M76.8 321.3h0M144.8 248.7h0M94.9 300h0M87.3 272.6h0M90.3 288.6h0M172.5 222.8h0M122.7 249.6h0M141.2 251.4h0M140.6 259.1h0M107 295.2h0M56.2 310.8h0M115.3 255.2h0M83.4 282.2h0M85.1 278.3h0M113 281.6h0M140.3 263.4h0M162.7 237.7h0M98.3 273.5h0M174.4 229.3h0M65.7 277.6h0M114.9 265.3h0M72 280.3h0M81.9 270h0M67 298.2h0M62.1 286.2h0M153.5 245.1h0M125.3 253.4h0M137 273.6h0M60.7 296.7h0M96.7 292.4h0M101.1 287.7h0M103.3 261.1h0M150.8 236.5h0M124.5 263.4h0M50.2 291h0M147.8 283.2h0M72.7 289h0M98.7 251.4h0M153.2 247.1h0M95.9 252.3h0M104.2 269.7h0M49.6 310.4h0M125.9 257.2h0M109.9 249h0M85.9 269.8h0M100.4 267.6h0M61.8 287.6h0M153.9 247.1h0M115.6 258.4h0M130.7 264h0M86.3 279.7h0M85.9 271.2h0M229.7 189.5h0M81 279.5h0M83.7 276.3h0M135.7 281.8h0M97.1 274.9h0M122.3 260.6h0M283.3 189.7h0M274 197.1h0M276.3 198.2h0M278.5 202.3h0M272 206.1h0M267.9 209.5h0M262.3 207.3h0M243.5 204.6h0M244.2 212.5h0M226.1 210.7h0M224.6 214h0M223.4 220.1h0M217.1 219.2h0M212.6 201.6h0M214.2 200h0M211.5 209.5h0M218.7 210.2h0M199 210.7h0M200.2 213.6h0M195.6 214.7h0M194.1 216.3h0M204.7 220.8h0M201.3 224.2h0M202.9 231h0M218.7 231.4h0M212.6 234.4h0M209.2 234.4h0M192.3 228.7h0M192.3 237.8h0M202.9 237.8h0M197.9 240h0M192.3 243.4h0M191.1 247.9h0M214.8 241.2h0M216.7 241.8h0M222.3 244.5h0M208.5 251.8h0M192.3 267.6h0M244.9 246.1h0M249.9 234.8h0M256.6 230.5h0M255.5 225.3h0M265.2 233.9h0M282.2 232.1h0M282.6 235.5h0M283.3 210.7h0M353 208h0M341.4 181.7h0" stroke="#10c45c" stroke-width="2.90" stroke-linecap="round" fill="none"/>
<path d="M201.5 270.7l2.8 2.8m-2.8 0l2.8 -2.8M216.2 266.9l2.8 2.8m-2.8 0l2.8 -2.8M213.9 279.3l2.8 2.8m-2.8 0l2.8 -2.8M230.8 280.2l2.8 2.8m-2.8 0l2.8 -2.8M228.6 263l2.8 2.8m-2.8 0l2.8 -2.8M229.5 252.6l2.8 2.8m-2.8 0l2.8 -2.8M236.7 249.2l2.8 2.8m-2.8 0l2.8 -2.8M244.6 247.2l2.8 2.8m-2.8 0l2.8 -2.8M248.9 262.3l2.8 2.8m-2.8 0l2.8 -2.8M257 234.8l2.8 2.8m-2.8 0l2.8 -2.8M260.2 242.7l2.8 2.8m-2.8 0l2.8 -2.8M264.3 246.5l2.8 2.8m-2.8 0l2.8 -2.8M266.5 249.9l2.8 2.8m-2.8 0l2.8 -2.8M259.8 253.3l2.8 2.8m-2.8 0l2.8 -2.8M273.3 263.9l2.8 2.8m-2.8 0l2.8 -2.8M277.4 245.9l2.8 2.8m-2.8 0l2.8 -2.8M271.7 232.3l2.8 2.8m-2.8 0l2.8 -2.8M283 237.5l2.8 2.8m-2.8 0l2.8 -2.8M289.6 227.3l2.8 2.8m-2.8 0l2.8 -2.8M282.3 220.1l2.8 2.8m-2.8 0l2.8 -2.8M274 215.4l2.8 2.8m-2.8 0l2.8 -2.8M262 213.8l2.8 2.8m-2.8 0l2.8 -2.8M294.8 234.8l2.8 2.8m-2.8 0l2.8 -2.8M296.3 235.9l2.8 2.8m-2.8 0l2.8 -2.8M300.9 235.7l2.8 2.8m-2.8 0l2.8 -2.8M305.8 235.7l2.8 2.8m-2.8 0l2.8 -2.8M309.9 241.8l2.8 2.8m-2.8 0l2.8 -2.8M316.7 259.4l2.8 2.8m-2.8 0l2.8 -2.8M318 236.8l2.8 2.8m-2.8 0l2.8 -2.8M320.3 230l2.8 2.8m-2.8 0l2.8 -2.8M320.3 220.6l2.8 2.8m-2.8 0l2.8 -2.8M334.3 223.9l2.8 2.8m-2.8 0l2.8 -2.8M337.2 222.8l2.8 2.8m-2.8 0l2.8 -2.8M333.2 212.6l2.8 2.8m-2.8 0l2.8 -2.8M336.6 217.2l2.8 2.8m-2.8 0l2.8 -2.8M325.7 205.4l2.8 2.8m-2.8 0l2.8 -2.8M328.2 205.9l2.8 2.8m-2.8 0l2.8 -2.8M380.1 183.5l2.8 2.8m-2.8 0l2.8 -2.8M447.1 181.6l2.8 2.8m-2.8 0l2.8 -2.8M424 189.7l2.8 2.8m-2.8 0l2.8 -2.8M408.6 192.5l2.8 2.8m-2.8 0l2.8 -2.8M386.1 195.7l2.8 2.8m-2.8 0l2.8 -2.8M383.6 197.9l2.8 2.8m-2.8 0l2.8 -2.8M424.8 201.1l2.8 2.8m-2.8 0l2.8 -2.8M459 200.6l2.8 2.8m-2.8 0l2.8 -2.8M391.2 203.8l2.8 2.8m-2.8 0l2.8 -2.8M365.5 207.1l2.8 2.8m-2.8 0l2.8 -2.8M342.2 195.7l2.8 2.8m-2.8 0l2.8 -2.8M333.2 212.2l2.8 2.8m-2.8 0l2.8 -2.8M335.9 216.9l2.8 2.8m-2.8 0l2.8 -2.8M351.6 215.5l2.8 2.8m-2.8 0l2.8 -2.8M353.8 217.7l2.8 2.8m-2.8 0l2.8 -2.8M413.2 220.4l2.8 2.8m-2.8 0l2.8 -2.8M433.8 224.4l2.8 2.8m-2.8 0l2.8 -2.8M334.8 224.2l2.8 2.8m-2.8 0l2.8 -2.8M337.3 223.9l2.8 2.8m-2.8 0l2.8 -2.8M357.1 229.9l2.8 2.8m-2.8 0l2.8 -2.8M369.3 226.9l2.8 2.8m-2.8 0l2.8 -2.8M394.5 231.5l2.8 2.8m-2.8 0l2.8 -2.8M485.8 235.6l2.8 2.8m-2.8 0l2.8 -2.8M357.1 236.9l2.8 2.8m-2.8 0l2.8 -2.8M404 238.8l2.8 2.8m-2.8 0l2.8 -2.8M394.5 246.7l2.8 2.8m-2.8 0l2.8 -2.8M354.4 250.7l2.8 2.8m-2.8 0l2.8 -2.8M365.5 252.6l2.8 2.8m-2.8 0l2.8 -2.8M390.9 270.8l2.8 2.8m-2.8 0l2.8 -2.8M119.2 321.6l2.8 2.8m-2.8 0l2.8 -2.8M192.6 294.7l2.8 2.8m-2.8 0l2.8 -2.8" stroke="#f57fc0" stroke-width="0.7" fill="none"/>
<path d="M194.2 274.3l2.8 2.8m-2.8 0l2.8 -2.8M206 269.1l2.8 2.8m-2.8 0l2.8 -2.8M234.9 245.4l2.8 2.8m-2.8 0l2.8 -2.8M238.7 237l2.8 2.8m-2.8 0l2.8 -2.8M271.3 254.9l2.8 2.8m-2.8 0l2.8 -2.8M289.1 233l2.8 2.8m-2.8 0l2.8 -2.8M295.4 215.6l2.8 2.8m-2.8 0l2.8 -2.8M311.3 226.9l2.8 2.8m-2.8 0l2.8 -2.8M328 233.4l2.8 2.8m-2.8 0l2.8 -2.8M372.5 201.1l2.8 2.8m-2.8 0l2.8 -2.8M401.8 204.7l2.8 2.8m-2.8 0l2.8 -2.8M382 209.5l2.8 2.8m-2.8 0l2.8 -2.8M366.3 212.8l2.8 2.8m-2.8 0l2.8 -2.8M356.2 210.9l2.8 2.8m-2.8 0l2.8 -2.8M340.3 208.2l2.8 2.8m-2.8 0l2.8 -2.8M386.9 215.2l2.8 2.8m-2.8 0l2.8 -2.8M342.2 228.5l2.8 2.8m-2.8 0l2.8 -2.8M348.4 228.2l2.8 2.8m-2.8 0l2.8 -2.8M375.5 225.5l2.8 2.8m-2.8 0l2.8 -2.8M451.9 233.7l2.8 2.8m-2.8 0l2.8 -2.8M328.6 233.1l2.8 2.8m-2.8 0l2.8 -2.8M379.8 267l2.8 2.8m-2.8 0l2.8 -2.8M165.5 298l2.8 2.8m-2.8 0l2.8 -2.8M194.1 275l2.8 2.8m-2.8 0l2.8 -2.8" stroke="#40c680" stroke-width="0.7" fill="none"/>
<line x1="22.20" y1="278.81" x2="210.16" y2="173.00" stroke="#2a2aff" stroke-width="0.8"/>
<line x1="30.03" y1="360.00" x2="362.22" y2="173.00" stroke="#2a2aff" stroke-width="0.8"/>
<line x1="22.20" y1="321.61" x2="286.19" y2="173.00" stroke="#ff0000" stroke-width="1.15"/>
<text x="41.40" y="368.9" font-size="6.9" fill="#585858" text-anchor="middle">0</text>
<text x="193.46" y="368.9" font-size="6.9" fill="#585858" text-anchor="middle">2</text>
<text x="345.52" y="368.9" font-size="6.9" fill="#585858" text-anchor="middle">4</text>
<text x="497.58" y="368.9" font-size="6.9" fill="#585858" text-anchor="middle">6</text>
<text x="18" y="356.38" font-size="6.9" fill="#585858" text-anchor="end">-1</text>
<text x="18" y="313.58" font-size="6.9" fill="#585858" text-anchor="end">0</text>
<text x="18" y="270.78" font-size="6.9" fill="#585858" text-anchor="end">1</text>
<text x="18" y="227.98" font-size="6.9" fill="#585858" text-anchor="end">2</text>
<text x="18" y="185.18" font-size="6.9" fill="#585858" text-anchor="end">3</text>
<text x="1.5" y="181.5" font-size="10.5" font-weight="bold" fill="#000">d</text>
<text x="265.5" y="379.6" font-size="8.65" fill="#111" text-anchor="middle">observed CD274</text>
<text transform="translate(9,269) rotate(-90)" font-size="8.65" fill="#111" text-anchor="middle">predicted CD274</text>
<path d="M528.6 237.8h0" stroke="#000" stroke-width="2.90" stroke-linecap="round" fill="none"/>
<path d="M527.2 250.3l2.8 2.8m-2.8 0l2.8 -2.8" stroke="#444" stroke-width="0.5" fill="none"/>
<path d="M528.6 286.1h0" stroke="#10c45c" stroke-width="2.90" stroke-linecap="round" fill="none"/>
<path d="M528.6 299.6h0" stroke="#f768b1" stroke-width="2.90" stroke-linecap="round" fill="none"/>
<text x="539.8" y="240.97" font-size="6.85" fill="#000">accurately predicted with specific model</text>
<text x="539.8" y="253.97" font-size="6.85" fill="#000">underpredicted with specific model</text>
<text x="539.8" y="289.07" font-size="6.85" fill="#000">test</text>
<text x="539.8" y="302.67" font-size="6.85" fill="#000">training</text>
<line x1="64.10" y1="406.3" x2="64.10" y2="530" stroke="#f1f1f1" stroke-width="0.45"/>
<line x1="133.30" y1="406.3" x2="133.30" y2="530" stroke="#f1f1f1" stroke-width="0.45"/>
<line x1="202.50" y1="406.3" x2="202.50" y2="530" stroke="#f1f1f1" stroke-width="0.45"/>
<line x1="271.70" y1="406.3" x2="271.70" y2="530" stroke="#f1f1f1" stroke-width="0.45"/>
<line x1="29.8" y1="509.85" x2="332" y2="509.85" stroke="#f1f1f1" stroke-width="0.45"/>
<line x1="29.8" y1="474.15" x2="332" y2="474.15" stroke="#f1f1f1" stroke-width="0.45"/>
<line x1="29.8" y1="438.45" x2="332" y2="438.45" stroke="#f1f1f1" stroke-width="0.45"/>
<line x1="98.70" y1="406.3" x2="98.70" y2="530" stroke="#e9e9e9" stroke-width="0.7"/>
<line x1="167.90" y1="406.3" x2="167.90" y2="530" stroke="#e9e9e9" stroke-width="0.7"/>
<line x1="237.10" y1="406.3" x2="237.10" y2="530" stroke="#e9e9e9" stroke-width="0.7"/>
<line x1="306.30" y1="406.3" x2="306.30" y2="530" stroke="#e9e9e9" stroke-width="0.7"/>
<line x1="29.8" y1="527.70" x2="332" y2="527.70" stroke="#e9e9e9" stroke-width="0.7"/>
<line x1="29.8" y1="492.00" x2="332" y2="492.00" stroke="#e9e9e9" stroke-width="0.7"/>
<line x1="29.8" y1="456.30" x2="332" y2="456.30" stroke="#e9e9e9" stroke-width="0.7"/>
<line x1="29.8" y1="420.60" x2="332" y2="420.60" stroke="#e9e9e9" stroke-width="0.7"/>
<path d="M79.2 415.4h0M95 411.7h0M119.3 415.4h0M91.7 427.5h0M133.3 429.9h0M143.3 425.7h0M147.8 432.1h0M101.1 434.5h0M108.4 436.3h0M100.2 440.6h0M115.7 444.5h0M70.7 442.4h0M61.9 448.8h0M53.4 456h0M79.2 454.2h0M70.4 461.2h0M82.6 461.5h0M76.8 466.1h0M79.5 467.6h0M67.4 468.5h0M64.1 474.6h0M58 475.8h0M92 480.3h0M100.5 477.6h0M44.9 492.2h0M96.2 492.2h0M54 494.3h0M49.5 497.3h0M48.3 502.5h0M51.6 506.4h0M68 504.6h0M43.1 519.8h0M46.8 524.3h0M59.8 523.4h0M181.7 490.9h0M317 435.9h0" stroke="#000" stroke-width="3.20" stroke-linecap="round" fill="none"/>
<line x1="29.80" y1="455.99" x2="77.96" y2="406.30" stroke="#2a2aff" stroke-width="1.0"/>
<line x1="96.47" y1="530.00" x2="216.36" y2="406.30" stroke="#2a2aff" stroke-width="1.0"/>
<line x1="29.80" y1="527.39" x2="147.16" y2="406.30" stroke="#ff0000" stroke-width="1.3"/>
<text x="98.70" y="540.3" font-size="9.2" fill="#585858" text-anchor="middle">1</text>
<text x="167.90" y="540.3" font-size="9.2" fill="#585858" text-anchor="middle">2</text>
<text x="237.10" y="540.3" font-size="9.2" fill="#585858" text-anchor="middle">3</text>
<text x="306.30" y="540.3" font-size="9.2" fill="#585858" text-anchor="middle">4</text>
<text x="26.5" y="531.01" font-size="9.2" fill="#585858" text-anchor="end">0.0</text>
<text x="26.5" y="495.31" font-size="9.2" fill="#585858" text-anchor="end">0.5</text>
<text x="26.5" y="459.61" font-size="9.2" fill="#585858" text-anchor="end">1.0</text>
<text x="26.5" y="423.91" font-size="9.2" fill="#585858" text-anchor="end">1.5</text>
<text x="180.0" y="398.7" font-size="13.1" fill="#1a1a1a" text-anchor="middle">CHOL</text>
<text x="1.5" y="397.5" font-size="10.5" font-weight="bold" fill="#000">e</text>
<text x="180.3" y="551.8" font-size="9.5" fill="#111" text-anchor="middle">observed CD274</text>
<text transform="translate(9.0,468) rotate(-90)" font-size="9.4" fill="#111" text-anchor="middle">predicted CD274</text>
<line x1="414.78" y1="406.3" x2="414.78" y2="530" stroke="#f1f1f1" stroke-width="0.45"/>
<line x1="499.73" y1="406.3" x2="499.73" y2="530" stroke="#f1f1f1" stroke-width="0.45"/>
<line x1="584.67" y1="406.3" x2="584.67" y2="530" stroke="#f1f1f1" stroke-width="0.45"/>
<line x1="366.2" y1="529.61" x2="668" y2="529.61" stroke="#f1f1f1" stroke-width="0.45"/>
<line x1="366.2" y1="504.19" x2="668" y2="504.19" stroke="#f1f1f1" stroke-width="0.45"/>
<line x1="366.2" y1="478.76" x2="668" y2="478.76" stroke="#f1f1f1" stroke-width="0.45"/>
<line x1="366.2" y1="453.34" x2="668" y2="453.34" stroke="#f1f1f1" stroke-width="0.45"/>
<line x1="366.2" y1="427.91" x2="668" y2="427.91" stroke="#f1f1f1" stroke-width="0.45"/>
<line x1="372.30" y1="406.3" x2="372.30" y2="530" stroke="#e9e9e9" stroke-width="0.7"/>
<line x1="457.25" y1="406.3" x2="457.25" y2="530" stroke="#e9e9e9" stroke-width="0.7"/>
<line x1="542.20" y1="406.3" x2="542.20" y2="530" stroke="#e9e9e9" stroke-width="0.7"/>
<line x1="627.15" y1="406.3" x2="627.15" y2="530" stroke="#e9e9e9" stroke-width="0.7"/>
<line x1="366.2" y1="516.90" x2="668" y2="516.90" stroke="#e9e9e9" stroke-width="0.7"/>
<line x1="366.2" y1="491.47" x2="668" y2="491.47" stroke="#e9e9e9" stroke-width="0.7"/>
<line x1="366.2" y1="466.05" x2="668" y2="466.05" stroke="#e9e9e9" stroke-width="0.7"/>
<line x1="366.2" y1="440.62" x2="668" y2="440.62" stroke="#e9e9e9" stroke-width="0.7"/>
<line x1="366.2" y1="415.20" x2="668" y2="415.20" stroke="#e9e9e9" stroke-width="0.7"/>
<path d="M380.4 511.5h0M382.2 512.2h0M387.8 509.9h0M393 506.8h0M396.5 504.2h0M401.9 504.2h0M388.8 524.5h0M395 517.3h0M401.9 521.8h0M429.6 511.9h0M388.1 491.2h0M389.9 493.5h0M388.1 500.4h0M389.6 501.9h0M395 500.4h0M396.2 495.5h0M393.5 489.6h0M395.8 489.6h0M399.2 492.7h0M400.7 488.8h0M401.9 496.5h0M403.5 491.9h0M402.7 485.8h0M405.3 485.3h0M406.5 487.3h0M406.2 493.5h0M408.8 494.2h0M411.2 499.6h0M411.9 493.9h0M413 492.7h0M411.9 489.6h0M412.7 484.7h0M410.4 483.5h0M408.1 483.5h0M405.3 478.1h0M401.6 477.3h0M393.2 477.9h0M396.8 480.4h0M404.2 467.8h0M409.6 476.5h0M410.4 479.6h0M411.2 481.9h0M415 473.5h0M418.1 474.2h0M414.5 477h0M415.8 486.5h0M418.1 485.8h0M418.8 482.7h0M419.6 484.2h0M420.4 488.4h0M416.5 496.5h0M421.5 499.2h0M425.8 494.2h0M430.4 493.5h0M436.1 493.2h0M435.5 485.3h0M432.7 479.6h0M429.6 480.7h0M427.3 477.3h0M424.2 479.2h0M424.2 482.7h0M427.3 473.5h0M424.2 470.8h0M428.1 471.9h0M431.2 473.5h0M433.5 470.1h0M435 471.9h0M435.8 481.2h0M439.6 474.2h0M443.5 480.4h0M443.8 467.3h0M436.1 465h0M433.5 465h0M431.2 465h0M431.5 462.2h0M425.8 464.2h0M423.5 463.8h0M421.2 458.1h0M425 458.8h0M426.5 459.6h0M429.2 455h0M437.3 460.4h0M439.2 454.2h0M441.2 454.5h0M530.9 412.1h0M489.2 428.9h0M493.9 428.4h0M509.2 429.3h0M503.8 435.6h0M517.2 437.4h0M532.4 436.9h0M537.8 443.6h0M468.6 438.5h0M470.4 442.5h0M474.9 443.7h0M478.5 447h0M481.9 450.1h0M484.6 449.7h0M494.2 446.1h0M509.9 447h0M504.7 450.2h0M515.9 453h0M548.4 455.8h0M542.1 463.6h0M530 473.2h0M525.3 494h0M452.1 445.2h0M453.6 447.4h0M461.1 448.4h0M464.4 448.4h0M464.4 450.6h0M440.9 454.2h0M446.9 455.7h0M458.6 455.5h0M453.6 459.3h0M456.3 458.7h0M466.2 461.4h0M474.9 459.6h0M478.9 464.2h0M485.2 462h0M493.5 457.1h0M497.1 459.6h0M498.7 455.5h0M495.5 466.9h0M443.6 466.9h0M448.5 468h0M449.9 469.2h0M457.2 466.3h0M461.1 465.4h0M466.7 467.2h0M467.7 465.1h0M470.4 470.1h0M474 472.7h0M453.6 472.3h0M455.4 471.8h0M457.2 471.9h0M447.2 473.2h0M445.4 479h0M442.7 480.1h0M449.9 478.6h0M451.2 484.2h0M577.5 421.3h0M620.7 440.1h0M598.6 450.8h0M654.1 473.9h0" stroke="#000" stroke-width="3.20" stroke-linecap="round" fill="none"/>
<line x1="366.20" y1="469.70" x2="472.12" y2="406.30" stroke="#2a2aff" stroke-width="1.0"/>
<line x1="435.37" y1="530.00" x2="642.02" y2="406.30" stroke="#2a2aff" stroke-width="1.0"/>
<line x1="366.20" y1="520.55" x2="557.07" y2="406.30" stroke="#ff0000" stroke-width="1.3"/>
<text x="372.30" y="540.3" font-size="9.2" fill="#585858" text-anchor="middle">0</text>
<text x="457.25" y="540.3" font-size="9.2" fill="#585858" text-anchor="middle">1</text>
<text x="542.20" y="540.3" font-size="9.2" fill="#585858" text-anchor="middle">2</text>
<text x="627.15" y="540.3" font-size="9.2" fill="#585858" text-anchor="middle">3</text>
<text x="362.5" y="520.61" font-size="9.2" fill="#585858" text-anchor="end">0.0</text>
<text x="362.5" y="495.19" font-size="9.2" fill="#585858" text-anchor="end">0.5</text>
<text x="362.5" y="469.76" font-size="9.2" fill="#585858" text-anchor="end">1.0</text>
<text x="362.5" y="444.34" font-size="9.2" fill="#585858" text-anchor="end">1.5</text>
<text x="362.5" y="418.91" font-size="9.2" fill="#585858" text-anchor="end">2.0</text>
<text x="517" y="398.7" font-size="13.1" fill="#1a1a1a" text-anchor="middle">READ</text>
<text x="337" y="397.5" font-size="10.5" font-weight="bold" fill="#000">f</text>
<text x="517" y="551.8" font-size="9.5" fill="#111" text-anchor="middle">observed CD274</text>
</svg>
</body></html>
